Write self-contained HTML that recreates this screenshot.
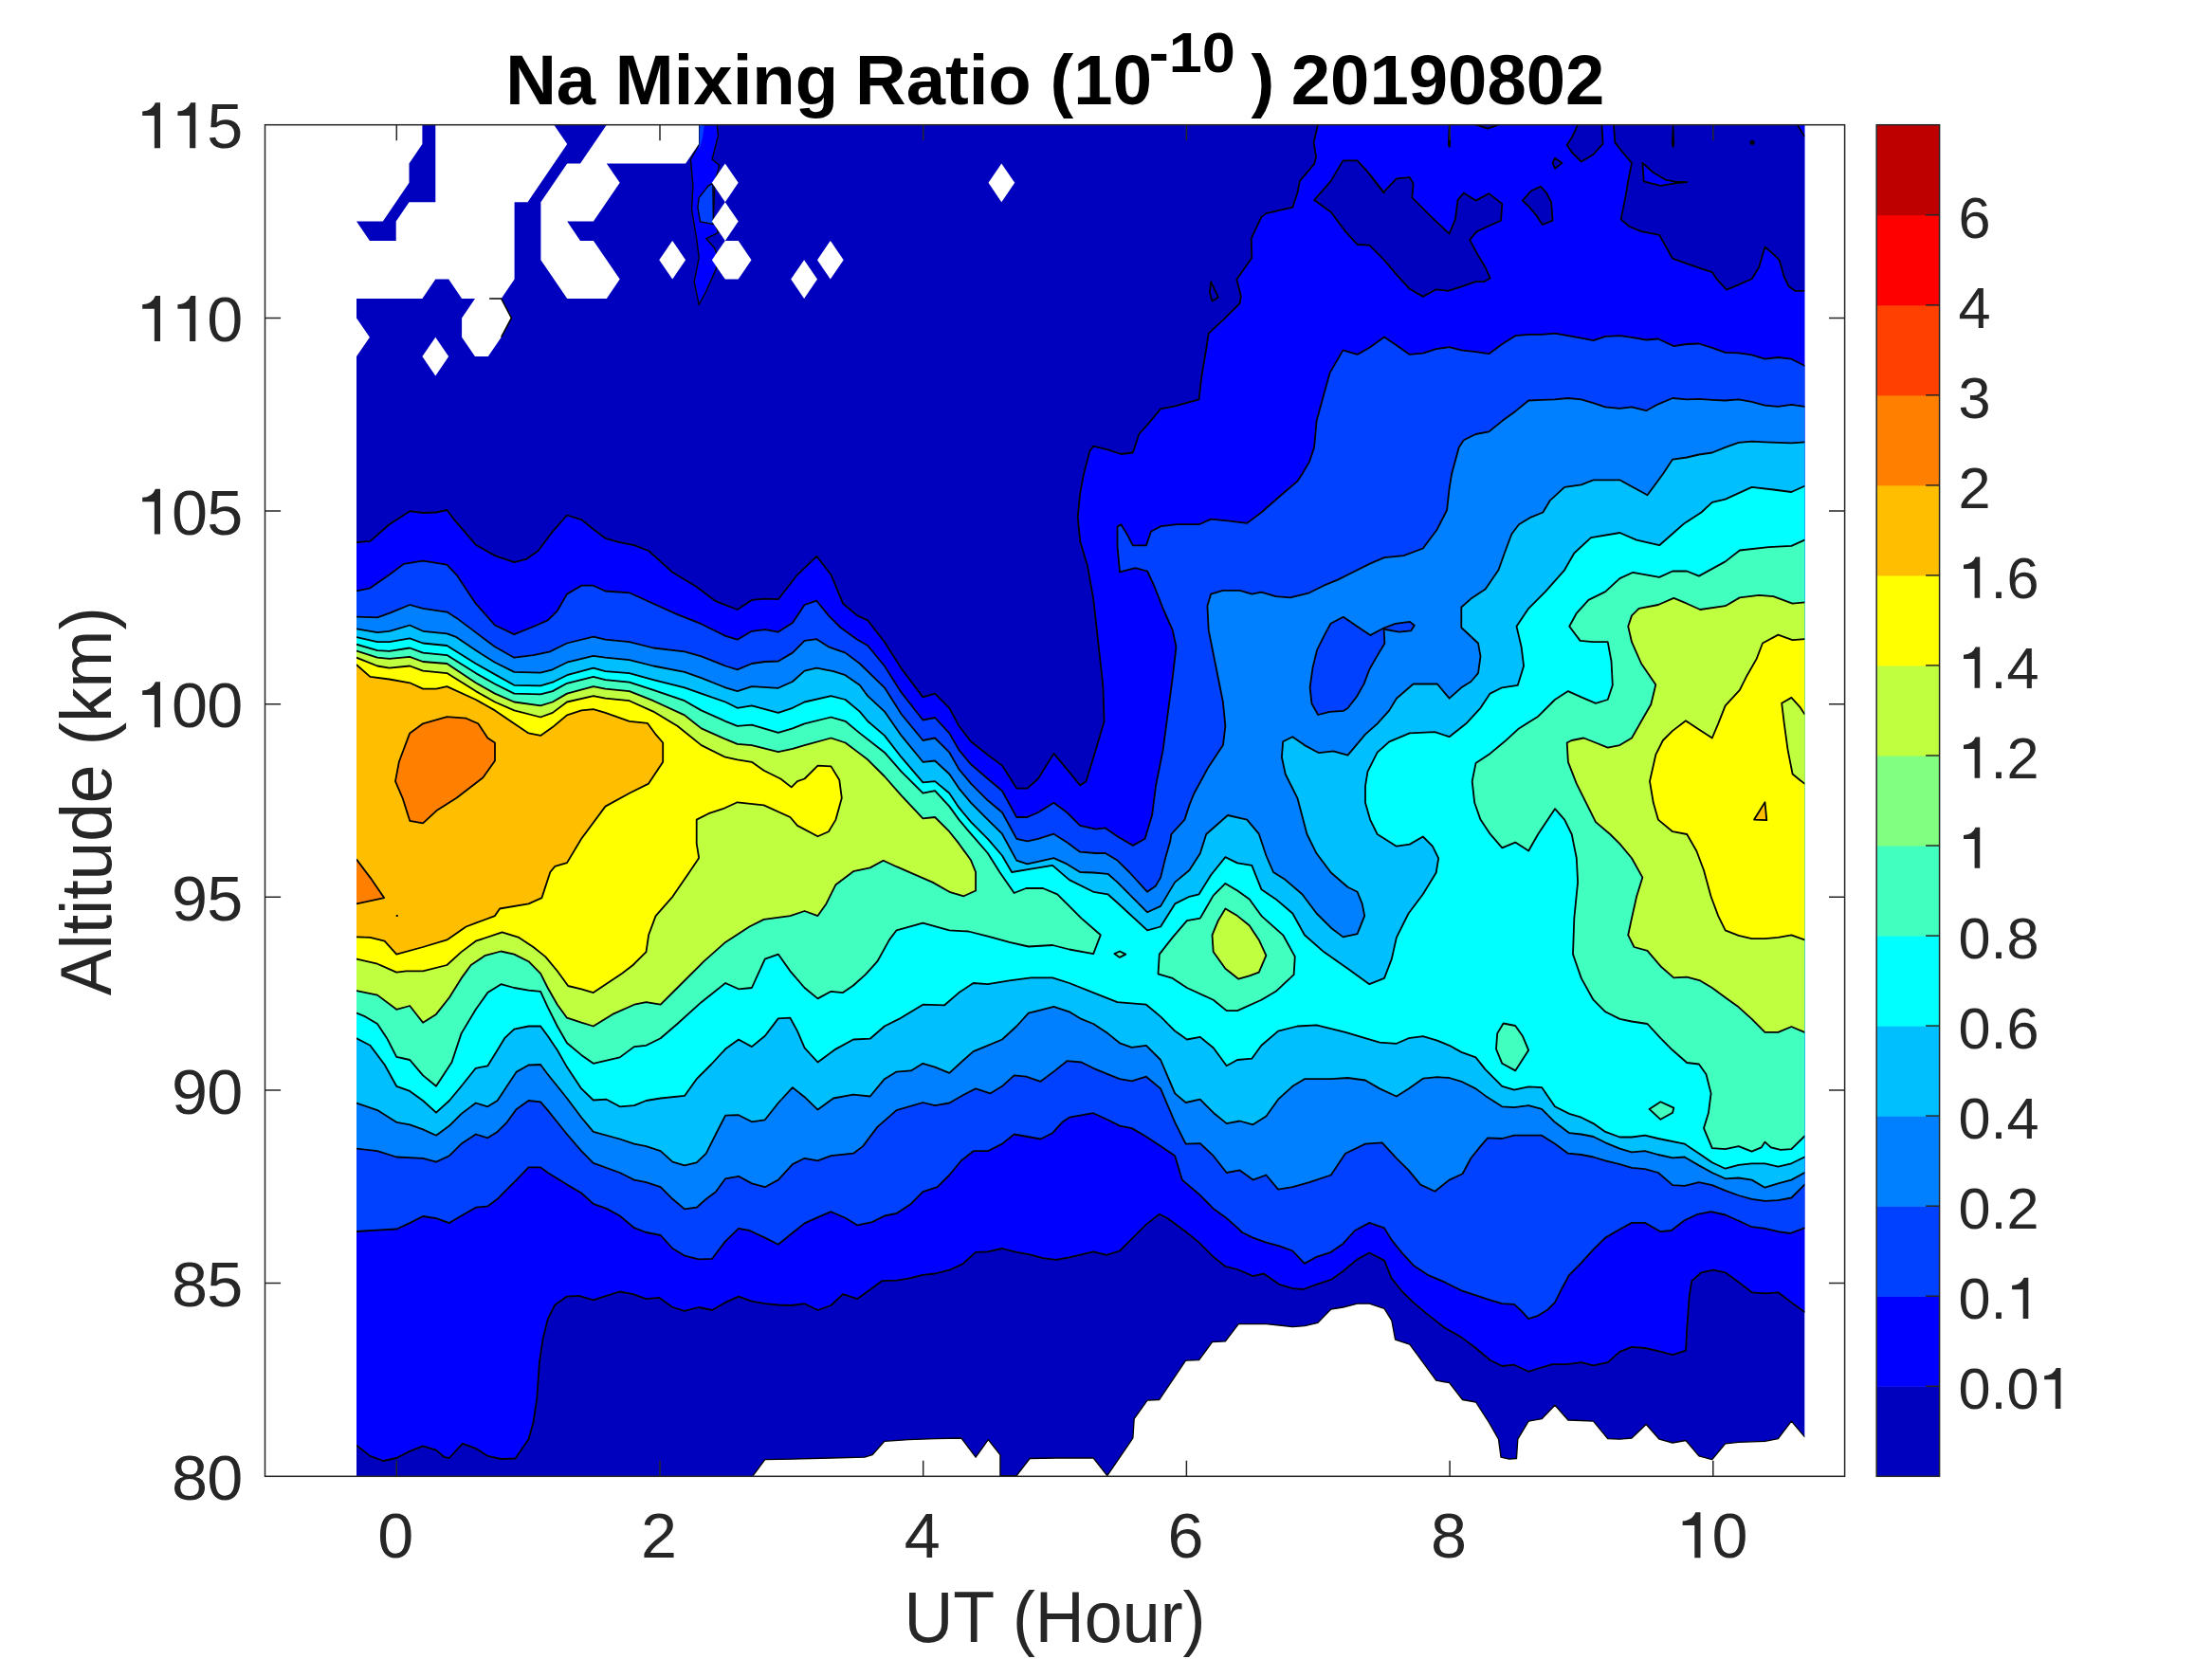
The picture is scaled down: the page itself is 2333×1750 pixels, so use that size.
<!DOCTYPE html>
<html><head><meta charset="utf-8"><title>Na Mixing Ratio</title>
<style>html,body{margin:0;padding:0;background:#fff}svg{display:block}</style></head>
<body><svg width="2333" height="1750" viewBox="0 0 2333 1750">
<rect width="2333" height="1750" fill="#fff"/>
<defs><clipPath id="dc"><rect x="376.0" y="131.7" width="1527.3" height="1425.6"/></clipPath></defs>
<g clip-path="url(#dc)">
<rect x="371.0" y="126.69999999999999" width="1537.3" height="1435.6" fill="#0000bf"/>
<polygon points="370.0,572.2 376.0,572.2 390.4,570.9 410.6,553.2 432.2,539.2 446.1,541.0 460.0,540.5 471.4,538.0 479.0,548.1 501.8,574.7 522.0,586.1 542.3,593.2 554.9,589.9 567.6,581.0 582.8,560.8 598.0,543.5 613.2,548.1 625.8,558.2 638.5,567.8 653.7,572.2 668.9,575.2 684.1,581.0 709.4,603.8 734.7,619.0 754.9,634.2 777.7,643.0 792.9,632.9 806.8,631.6 820.8,632.2 841.0,606.3 861.3,586.8 876.5,606.3 889.1,636.7 904.3,649.4 915.2,654.4 932.9,677.2 950.6,705.1 973.4,735.4 986.1,731.6 1001.3,746.8 1011.4,765.8 1024.1,782.3 1041.8,796.2 1057.0,807.6 1072.2,831.6 1083.5,831.6 1094.9,821.5 1111.4,794.9 1125.3,811.4 1139.2,828.4 1145.6,824.1 1155.7,791.1 1164.6,760.8 1163.3,722.8 1158.2,677.2 1153.2,631.6 1146.8,596.2 1139.2,570.9 1136.7,545.6 1139.2,520.3 1143.0,500.0 1149.4,475.7 1153.2,470.6 1168.4,474.4 1182.3,479.0 1194.9,477.5 1201.3,458.0 1211.4,446.6 1224.1,431.4 1239.2,428.4 1264.6,421.3 1267.1,398.5 1272.2,368.1 1274.7,351.6 1289.9,337.7 1307.6,320.0 1308.9,312.4 1304.3,294.7 1320.3,271.9 1319.7,251.6 1330.4,228.9 1335.4,225.1 1363.3,218.7 1368.4,203.5 1370.9,190.9 1386.1,173.2 1388.1,165.6 1385.6,150.4 1389.9,131.7 1389.9,125.7 1909.3,125.7 1909.3,1384.1 1903.3,1384.1 1889.4,1373.9 1875.4,1363.3 1861.5,1364.3 1847.6,1363.3 1833.7,1352.4 1819.7,1342.3 1807.1,1339.7 1794.4,1342.3 1784.3,1351.1 1781.8,1366.3 1779.2,1401.8 1778.0,1424.6 1764.1,1429.1 1748.9,1425.1 1734.9,1422.0 1721.0,1420.8 1708.4,1425.8 1695.7,1437.2 1680.5,1440.3 1667.8,1437.2 1652.7,1439.2 1637.5,1439.2 1622.3,1443.5 1612.2,1446.8 1597.0,1439.7 1584.3,1441.0 1571.6,1434.7 1556.5,1422.0 1541.3,1410.6 1523.5,1400.5 1505.8,1386.6 1490.6,1373.9 1478.0,1361.3 1467.8,1348.6 1460.0,1329.6 1444.3,1321.5 1431.6,1328.4 1416.5,1341.0 1403.8,1349.9 1388.6,1354.9 1374.7,1360.0 1363.3,1359.2 1349.4,1354.9 1332.9,1343.5 1321.5,1346.1 1305.1,1339.0 1292.4,1335.9 1279.7,1325.8 1264.6,1310.6 1250.6,1299.2 1231.6,1285.3 1222.8,1280.8 1208.9,1291.6 1194.9,1305.6 1181.0,1319.5 1167.1,1323.8 1153.2,1320.3 1140.5,1323.3 1127.8,1326.3 1113.9,1328.9 1100.0,1327.1 1086.1,1323.3 1072.2,1320.8 1057.0,1317.0 1041.8,1320.3 1029.1,1320.8 1015.2,1333.4 1001.3,1339.7 986.1,1343.5 973.4,1344.8 958.2,1348.6 945.6,1350.6 930.4,1351.1 920.0,1358.7 904.3,1370.1 889.1,1365.1 876.5,1377.0 862.5,1382.0 848.6,1375.2 834.7,1377.0 820.8,1376.5 806.8,1375.2 792.9,1372.7 779.0,1367.6 765.1,1373.9 751.1,1382.0 737.2,1379.0 722.0,1382.8 709.4,1379.0 695.4,1368.9 681.5,1370.1 667.6,1365.1 653.7,1362.5 639.7,1366.8 625.8,1371.4 610.6,1366.8 598.0,1367.6 585.3,1376.5 577.7,1391.6 572.7,1411.9 568.9,1437.2 566.3,1475.2 562.5,1500.5 557.5,1518.2 543.5,1538.5 528.4,1539.0 514.4,1535.9 501.8,1527.8 487.8,1522.8 473.9,1538.0 468.9,1537.2 460.0,1529.6 446.1,1525.3 432.2,1530.9 418.2,1538.0 404.3,1541.0 390.4,1535.9 376.0,1524.6 370.0,1524.6" fill="#0000ff"/>
<polygon points="1460.0,203.5 1444.3,183.3 1431.6,169.4 1416.5,169.4 1403.8,190.9 1386.1,211.1 1403.8,223.8 1419.0,244.1 1431.6,258.0 1444.3,258.7 1460.0,274.4 1472.9,289.6 1486.8,304.8 1500.8,312.9 1514.7,305.3 1527.3,306.8 1541.3,302.3 1556.5,297.2 1565.3,297.2 1571.6,293.4 1566.6,282.0 1559.0,269.4 1550.1,252.9 1557.7,244.1 1571.6,237.7 1583.0,232.7 1584.3,214.9 1570.4,204.1 1556.5,211.6 1543.8,203.5 1537.5,211.1 1534.9,231.4 1528.6,246.6 1508.4,227.6 1489.4,208.6 1490.6,193.4 1486.8,187.1 1472.9,188.4 1459.0,203.0 1440.0,178.2" fill="#0000bf"/>
<polygon points="1605.8,211.6 1614.7,201.5 1624.8,196.7 1631.1,203.5 1636.2,213.7 1637.5,232.7 1626.8,237.0 1619.7,226.3 1612.2,217.5" fill="#0000bf"/>
<polygon points="1637.5,171.9 1640.0,166.8 1647.6,171.9 1640.0,177.7" fill="#0000bf"/>
<polygon points="1664.1,125.7 1664.1,131.7 1657.7,145.3 1652.7,152.9 1657.7,160.5 1667.8,170.6 1680.5,163.0 1690.6,151.6 1689.4,131.7 1689.4,125.7" fill="#0000bf"/>
<polygon points="1702.0,125.7 1702.0,131.7 1703.3,150.4 1713.4,163.0 1721.0,171.9 1717.2,190.9 1714.7,206.1 1709.6,231.4 1718.5,239.0 1731.1,244.1 1743.8,246.6 1750.1,247.8 1756.5,259.2 1764.1,272.7 1779.2,278.2 1794.4,283.3 1805.8,287.1 1810.9,294.7 1821.0,305.6 1833.7,300.3 1847.6,294.2 1855.2,282.0 1861.5,260.5 1870.4,268.1 1876.7,274.4 1881.8,292.2 1886.8,302.3 1893.2,306.8 1903.3,306.8 1903.3,144.1 1895.7,131.7 1895.7,125.7" fill="#0000bf"/>
<polygon points="1732.4,171.9 1743.8,182.0 1756.5,189.6 1766.6,191.6 1779.2,192.2 1766.6,193.4 1751.4,195.9 1733.7,191.4" fill="#0000ff"/>
<polygon points="1277.2,297.2 1284.8,313.7 1278.5,317.5 1275.9,308.6" fill="#0000bf"/>
<polygon points="1556.5,125.7 1556.5,131.7 1569.1,135.7 1580.5,131.7 1580.5,125.7" fill="#0000bf"/>
<polygon points="370.0,623.3 376.0,623.3 390.4,620.3 410.6,606.3 425.8,594.9 446.1,591.6 471.4,595.7 481.5,606.3 501.8,636.7 522.0,659.5 542.3,669.1 560.0,662.0 577.7,654.4 587.8,644.3 598.0,626.6 613.2,617.7 625.8,617.7 638.5,623.5 663.8,625.3 689.1,636.7 714.4,648.1 739.7,658.2 765.1,670.9 777.7,674.7 792.9,665.8 806.8,664.1 820.8,666.6 835.9,657.0 848.6,638.0 861.3,633.7 873.9,649.4 886.6,662.0 904.3,674.7 915.2,681.0 932.9,702.5 950.6,730.4 973.4,759.5 986.1,757.0 1001.3,773.4 1011.4,791.1 1024.1,806.3 1041.8,821.5 1057.0,834.2 1072.2,862.0 1083.5,862.0 1094.9,857.0 1111.4,846.8 1125.3,857.0 1139.2,870.9 1155.7,874.7 1165.8,873.4 1178.5,882.3 1194.9,891.9 1207.6,884.8 1215.2,859.5 1219.0,829.1 1226.6,791.1 1231.6,753.2 1236.7,715.2 1240.5,682.3 1236.7,664.6 1226.6,641.8 1217.7,619.0 1210.1,602.5 1197.5,599.2 1181.0,603.3 1178.5,575.9 1178.5,555.7 1182.3,553.2 1188.6,563.3 1194.9,575.4 1208.9,575.4 1213.9,560.8 1224.1,555.2 1241.8,553.2 1264.6,553.2 1277.2,547.6 1294.9,549.4 1315.2,551.9 1330.4,540.5 1350.6,522.8 1368.4,507.6 1373.4,500.0 1381.0,487.1 1386.1,471.9 1388.6,444.1 1396.2,416.2 1402.5,393.4 1416.5,369.4 1431.6,373.9 1444.3,366.8 1460.0,355.4 1472.9,364.3 1486.8,373.9 1500.8,372.7 1514.7,368.1 1528.6,366.1 1541.3,369.4 1556.5,371.1 1570.4,373.2 1584.3,363.0 1598.2,354.2 1612.2,352.9 1626.1,352.9 1640.0,351.6 1653.9,354.2 1667.8,356.7 1680.5,359.2 1693.2,354.9 1708.4,354.2 1721.0,355.9 1736.2,358.5 1748.9,357.5 1765.3,365.1 1779.2,363.0 1791.9,362.5 1805.8,366.8 1819.7,371.9 1833.7,372.4 1847.6,374.4 1861.5,378.7 1875.4,377.0 1889.4,378.7 1903.3,385.8 1909.3,385.8 1909.3,1295.4 1903.3,1295.4 1888.1,1301.0 1875.4,1299.2 1861.5,1295.9 1847.6,1294.2 1833.7,1287.8 1819.7,1281.5 1804.6,1278.2 1790.6,1280.8 1776.7,1287.3 1762.8,1298.0 1751.4,1299.2 1734.9,1289.9 1721.0,1289.9 1707.1,1297.5 1693.2,1305.6 1680.5,1318.2 1667.8,1332.2 1655.2,1344.8 1647.6,1358.7 1640.0,1373.9 1632.4,1381.5 1622.3,1387.8 1612.2,1391.1 1604.6,1382.8 1597.0,1375.9 1584.3,1375.2 1571.6,1371.4 1556.5,1366.3 1541.3,1361.3 1523.5,1352.4 1505.8,1344.8 1490.6,1334.7 1478.0,1320.8 1467.8,1308.1 1460.0,1295.4 1444.3,1289.9 1429.1,1298.0 1416.5,1311.9 1403.8,1320.8 1388.6,1325.8 1375.9,1332.9 1363.3,1319.5 1349.4,1314.4 1335.4,1310.6 1321.5,1305.6 1310.1,1300.0 1305.1,1295.2 1293.7,1285.1 1279.7,1274.9 1264.6,1259.7 1246.8,1244.6 1239.2,1219.2 1224.1,1209.1 1208.9,1199.0 1193.7,1190.1 1181.0,1187.6 1168.4,1181.3 1153.2,1174.2 1127.8,1178.7 1120.3,1183.8 1110.1,1195.2 1097.5,1201.5 1069.6,1196.5 1057.0,1206.6 1041.8,1214.2 1026.6,1214.2 1013.9,1224.3 1001.3,1239.5 988.6,1252.2 973.4,1257.2 960.8,1269.9 945.6,1280.0 932.9,1282.5 920.0,1289.1 904.3,1292.4 891.6,1284.8 876.5,1278.2 862.5,1284.1 848.6,1290.4 835.9,1300.5 820.8,1312.7 806.8,1305.6 790.4,1298.0 779.0,1295.9 765.1,1309.4 751.1,1327.8 737.2,1328.4 722.0,1324.6 709.4,1317.0 696.7,1303.0 681.5,1300.0 668.9,1295.2 653.7,1282.5 639.7,1274.9 625.8,1269.9 613.2,1258.5 598.0,1249.6 577.7,1237.0 570.1,1231.4 557.5,1231.4 544.8,1244.6 534.7,1254.7 524.6,1264.8 514.4,1272.4 501.8,1273.7 486.6,1282.5 473.9,1290.1 460.0,1285.1 446.1,1283.0 432.2,1290.1 418.2,1296.5 398.0,1297.7 376.0,1299.0 370.0,1299.0" fill="#0040ff"/>
<polygon points="370.0,650.6 376.0,650.6 398.0,651.4 410.6,646.8 432.2,638.0 446.1,641.8 471.4,645.6 481.5,651.9 501.8,667.1 522.0,682.3 542.3,693.7 562.5,691.1 580.3,687.3 598.0,678.5 625.8,671.6 638.5,674.7 663.8,677.2 689.1,683.5 722.0,687.3 739.7,692.4 765.1,702.5 777.7,706.3 792.9,700.0 806.8,698.0 820.8,697.5 835.9,688.6 848.6,675.9 861.3,674.2 873.9,682.3 891.6,688.6 906.8,700.0 932.9,725.3 950.6,753.2 973.4,781.0 986.1,778.5 1001.3,793.7 1011.4,811.4 1024.1,826.6 1041.8,844.3 1057.0,857.0 1072.2,884.8 1083.5,887.3 1094.9,884.8 1111.4,879.7 1125.3,888.6 1139.2,898.7 1155.7,900.0 1165.8,900.0 1178.5,907.6 1191.1,920.0 1210.1,940.8 1219.0,934.4 1224.1,925.6 1229.1,905.3 1234.2,887.6 1235.4,880.0 1249.4,864.6 1254.4,849.4 1259.5,836.7 1274.7,808.9 1289.9,786.1 1292.4,765.8 1289.9,740.5 1282.3,702.5 1274.7,664.6 1273.4,639.2 1277.2,626.6 1289.9,622.8 1307.6,622.8 1320.3,626.6 1330.4,624.6 1345.6,629.1 1360.8,630.4 1381.0,625.3 1396.2,617.7 1411.4,611.4 1426.6,603.8 1444.3,594.9 1460.0,588.1 1480.5,586.1 1500.8,578.5 1515.9,558.2 1526.1,538.0 1528.6,515.2 1531.1,500.0 1538.7,471.9 1543.8,464.3 1556.5,458.0 1570.4,455.4 1584.3,444.1 1598.2,433.9 1612.2,422.5 1626.1,421.8 1640.0,421.3 1653.9,420.0 1667.8,421.3 1680.5,425.1 1693.2,429.4 1708.4,430.9 1721.0,429.4 1736.2,433.2 1748.9,426.3 1764.1,420.0 1779.2,421.3 1791.9,420.8 1805.8,421.8 1819.7,422.5 1833.7,421.3 1847.6,423.8 1861.5,427.6 1875.4,428.9 1889.4,426.8 1903.3,428.9 1909.3,428.9 1909.3,1249.6 1903.3,1249.6 1889.4,1263.5 1875.4,1266.1 1861.5,1266.8 1847.6,1264.8 1833.7,1261.0 1819.7,1255.9 1805.8,1250.1 1791.9,1247.1 1776.7,1250.9 1764.1,1250.1 1748.9,1237.0 1734.9,1233.2 1721.0,1231.9 1708.4,1228.1 1693.2,1224.3 1680.5,1220.5 1667.8,1218.0 1653.9,1216.7 1640.0,1206.6 1626.1,1197.7 1597.0,1197.7 1584.3,1201.0 1569.1,1200.3 1561.5,1209.1 1551.4,1221.8 1542.5,1238.2 1528.6,1244.6 1513.4,1256.7 1498.2,1249.6 1485.6,1234.4 1472.9,1221.8 1457.7,1205.3 1440.0,1206.6 1419.0,1216.7 1403.8,1239.5 1381.0,1247.1 1363.3,1252.2 1348.1,1254.7 1335.4,1239.5 1321.5,1244.6 1307.6,1234.4 1293.7,1237.0 1279.7,1219.2 1265.8,1206.1 1250.6,1206.6 1239.2,1183.8 1231.6,1166.1 1224.1,1148.4 1208.9,1135.7 1193.7,1140.3 1181.0,1138.2 1168.4,1133.2 1153.2,1126.8 1140.5,1120.5 1125.3,1119.2 1112.7,1129.4 1097.5,1140.8 1082.3,1135.7 1069.6,1134.4 1057.0,1145.8 1044.3,1153.4 1029.1,1148.4 1016.5,1154.7 1001.3,1163.5 986.1,1166.1 973.4,1163.0 945.6,1171.1 925.3,1188.9 910.1,1209.1 900.0,1216.7 876.5,1219.2 862.5,1224.3 848.6,1221.8 835.9,1228.1 820.8,1244.6 806.8,1252.2 792.9,1248.4 779.0,1240.8 765.1,1243.3 754.9,1257.2 744.8,1264.8 734.7,1273.7 722.0,1275.4 709.4,1264.8 696.7,1252.2 681.5,1247.1 668.9,1244.6 653.7,1237.0 625.8,1226.8 613.2,1214.2 598.0,1196.5 587.8,1183.8 577.7,1171.1 570.1,1162.3 557.5,1161.0 544.8,1169.9 534.7,1183.8 524.6,1193.9 514.4,1200.3 501.8,1196.5 486.6,1206.6 473.9,1219.2 460.0,1225.6 446.1,1221.8 418.2,1220.5 398.0,1214.2 376.0,1211.6 370.0,1211.6" fill="#0080ff"/>
<polygon points="1403.5,657.8 1416.8,650.8 1431.0,660.6 1445.2,670.1 1459.5,662.5 1460.4,678.7 1451.9,692.9 1444.3,706.2 1438.6,721.4 1431.0,734.7 1421.5,747.0 1416.8,749.9 1402.5,750.8 1390.2,754.0 1383.5,742.3 1381.6,725.2 1384.5,704.3 1389.2,685.3 1396.8,670.1" fill="#0040ff"/>
<polygon points="1459.5,662.5 1471.8,657.8 1487.0,655.9 1491.8,659.7 1488.0,665.4 1475.6,666.7 1461.4,664.0" fill="#0040ff"/>
<polygon points="370.0,663.3 376.0,663.3 398.0,667.1 410.6,665.8 432.2,659.5 446.1,665.8 471.4,668.4 481.5,672.2 501.8,686.1 522.0,698.7 542.3,708.9 570.1,709.6 582.8,706.3 598.0,698.7 625.8,691.9 638.5,693.7 663.8,696.2 689.1,702.5 722.0,708.9 739.7,715.2 765.1,725.3 777.7,729.1 792.9,724.1 820.8,725.8 835.9,719.0 848.6,707.6 861.3,704.6 879.0,708.1 891.6,712.2 906.8,722.8 915.2,734.2 932.9,750.6 950.6,775.9 973.4,803.8 986.1,802.5 1001.3,816.5 1011.4,831.6 1024.1,846.8 1041.8,864.6 1057.0,879.7 1072.2,907.6 1083.5,911.4 1094.9,908.9 1111.4,905.1 1125.3,911.4 1139.2,920.0 1153.2,920.5 1168.4,921.8 1178.5,930.6 1210.1,962.3 1224.1,955.9 1239.2,930.6 1254.4,918.0 1265.8,900.3 1272.2,880.0 1294.9,860.0 1315.2,864.6 1327.8,879.7 1335.4,902.5 1343.0,920.0 1355.7,928.1 1373.4,943.3 1388.6,963.5 1403.8,978.7 1416.5,988.4 1431.6,985.1 1439.2,966.1 1436.7,953.4 1431.6,940.8 1421.5,935.7 1403.8,920.5 1388.6,900.3 1378.5,880.0 1368.4,841.8 1355.7,816.5 1351.9,798.7 1353.2,782.3 1363.3,777.2 1375.9,786.1 1391.1,794.2 1406.3,792.4 1421.5,796.7 1440.0,774.7 1452.7,763.3 1465.3,749.4 1472.9,736.7 1490.6,721.5 1515.9,721.5 1528.6,736.7 1541.3,725.3 1551.4,719.0 1559.0,710.1 1561.5,692.4 1559.0,678.5 1541.3,662.0 1541.3,640.5 1551.4,631.6 1566.6,621.5 1580.5,601.3 1586.8,583.5 1594.4,563.3 1602.0,553.2 1614.7,545.6 1627.3,540.5 1634.9,527.8 1650.1,513.9 1667.8,511.4 1680.5,506.3 1708.4,506.3 1737.5,522.3 1753.9,500.0 1764.1,484.6 1779.2,482.5 1791.9,479.5 1805.8,477.5 1819.7,471.9 1833.7,466.8 1847.6,465.6 1861.5,466.3 1875.4,466.8 1889.4,467.3 1903.3,466.3 1909.3,466.3 1909.3,1237.0 1903.3,1237.0 1889.4,1244.6 1875.4,1248.4 1861.5,1252.7 1847.6,1244.6 1833.7,1242.5 1819.7,1243.3 1805.8,1237.0 1791.9,1229.4 1776.7,1220.5 1764.1,1221.3 1748.9,1218.0 1734.9,1214.2 1721.0,1215.4 1708.4,1211.6 1693.2,1205.3 1680.5,1199.0 1667.8,1196.5 1655.2,1195.2 1640.0,1183.8 1626.1,1169.9 1612.2,1166.1 1597.0,1168.1 1584.3,1167.3 1566.6,1155.9 1556.5,1148.4 1541.3,1140.8 1528.6,1137.0 1515.9,1136.2 1500.8,1137.7 1485.6,1148.4 1472.9,1156.5 1455.2,1148.4 1440.0,1139.5 1421.5,1137.0 1403.8,1138.2 1375.9,1138.2 1363.3,1145.8 1348.1,1159.7 1335.4,1177.5 1321.5,1186.3 1307.6,1182.5 1293.7,1185.1 1279.7,1173.7 1265.8,1159.7 1250.6,1163.0 1239.2,1153.4 1231.6,1135.7 1224.1,1118.0 1208.9,1102.8 1193.7,1104.8 1181.0,1100.3 1168.4,1090.1 1153.2,1080.0 1140.5,1074.9 1127.8,1067.3 1111.4,1061.8 1100.0,1064.8 1084.8,1068.6 1072.2,1082.5 1057.0,1096.5 1041.8,1102.8 1026.6,1109.1 1016.5,1118.0 1001.3,1131.9 986.1,1125.6 973.4,1121.8 960.8,1129.4 945.6,1130.6 932.9,1138.2 917.7,1156.5 900.0,1154.7 879.0,1158.5 862.5,1170.6 848.6,1157.2 835.9,1147.1 820.8,1163.5 806.8,1181.3 792.9,1183.3 779.0,1176.2 765.1,1176.7 754.9,1196.5 744.8,1216.7 734.7,1226.3 722.0,1229.4 709.4,1225.6 696.7,1214.2 681.5,1209.1 668.9,1206.6 653.7,1201.5 625.8,1193.9 613.2,1178.7 598.0,1158.5 587.8,1145.8 577.7,1133.2 570.1,1123.0 557.5,1123.5 544.8,1130.6 534.7,1145.8 524.6,1161.0 514.4,1167.3 501.8,1163.5 486.6,1174.9 473.9,1187.6 460.0,1197.7 446.1,1191.4 432.2,1186.3 418.2,1183.8 398.0,1171.1 376.0,1163.5 370.0,1163.5" fill="#00bfff"/>
<polygon points="370.0,672.2 376.0,672.2 398.0,677.2 410.6,677.2 432.2,673.4 446.1,678.5 471.4,681.0 501.8,700.0 522.0,711.4 542.3,722.8 570.1,723.3 582.8,719.7 598.0,712.2 625.8,704.6 638.5,708.1 663.8,710.1 689.1,717.2 722.0,725.3 739.7,731.6 765.1,740.5 777.7,746.8 792.9,744.3 820.8,751.9 835.9,746.8 848.6,740.5 876.5,734.2 891.6,738.0 906.8,750.6 915.2,760.8 932.9,775.9 950.6,798.7 973.4,825.3 986.1,824.1 1001.3,836.7 1011.4,851.9 1024.1,867.1 1041.8,884.8 1057.0,902.5 1067.1,920.0 1087.3,916.7 1110.1,912.9 1127.8,928.1 1153.2,940.8 1168.4,943.3 1178.5,952.2 1210.1,981.3 1224.1,977.5 1239.2,953.4 1254.4,945.8 1264.6,943.3 1277.2,923.0 1292.4,904.1 1305.1,910.4 1320.3,912.9 1330.4,938.2 1345.6,948.4 1363.3,963.5 1375.9,986.3 1396.2,1004.1 1421.5,1021.8 1444.3,1038.2 1460.0,1031.9 1467.8,1011.6 1472.9,988.9 1485.6,963.5 1500.8,943.3 1514.7,920.5 1517.2,905.3 1510.9,892.7 1500.8,882.5 1486.8,890.6 1472.9,892.7 1452.7,880.0 1445.1,864.6 1440.0,846.8 1440.0,829.1 1442.5,813.9 1452.7,793.7 1465.3,782.3 1486.8,773.4 1513.4,772.2 1528.6,777.2 1546.3,763.3 1561.5,746.8 1571.6,731.6 1584.3,725.3 1600.8,722.8 1607.1,702.5 1604.6,682.3 1599.5,660.8 1612.2,641.8 1629.9,624.1 1650.1,601.3 1660.3,583.5 1678.0,567.1 1708.4,562.0 1726.1,569.6 1750.1,575.2 1766.6,560.8 1776.7,551.9 1794.4,540.5 1805.8,529.9 1819.7,526.6 1847.6,513.9 1870.4,516.5 1889.4,519.0 1903.3,512.7 1909.3,512.7 1909.3,1220.5 1903.3,1220.5 1889.4,1227.3 1875.4,1230.6 1861.5,1227.3 1847.6,1227.3 1833.7,1228.9 1819.7,1232.7 1805.8,1226.3 1791.9,1216.7 1776.7,1206.6 1748.9,1201.0 1734.9,1197.7 1721.0,1199.5 1708.4,1199.5 1693.2,1193.9 1680.5,1185.1 1667.8,1178.7 1655.2,1174.9 1640.0,1167.3 1626.1,1147.1 1612.2,1146.3 1597.0,1149.6 1584.3,1145.8 1566.6,1128.1 1556.5,1115.4 1541.3,1109.9 1528.6,1102.8 1515.9,1097.7 1500.8,1093.2 1485.6,1095.2 1472.9,1100.8 1455.2,1099.7 1440.0,1095.2 1419.0,1088.9 1388.6,1081.3 1368.4,1082.5 1348.1,1087.6 1330.4,1102.8 1320.3,1116.7 1305.1,1118.0 1293.7,1124.3 1279.7,1105.3 1265.8,1093.9 1251.9,1096.5 1239.2,1087.6 1224.1,1072.4 1208.9,1059.7 1178.5,1057.2 1153.2,1047.1 1127.8,1037.0 1110.1,1031.4 1087.3,1031.4 1064.6,1034.4 1041.8,1038.2 1026.6,1037.0 1011.4,1047.1 996.2,1060.3 973.4,1059.7 948.1,1074.9 932.9,1082.5 917.7,1095.7 900.0,1096.5 881.5,1106.6 862.5,1120.5 848.6,1105.3 841.0,1087.6 833.4,1073.7 820.8,1074.4 806.8,1092.7 792.9,1104.1 779.0,1096.5 765.1,1106.6 749.9,1123.0 734.7,1138.2 722.0,1155.9 696.7,1158.5 681.5,1161.0 668.9,1166.1 653.7,1167.3 639.7,1159.7 625.8,1160.5 613.2,1148.4 598.0,1125.6 587.8,1107.8 577.7,1092.7 570.1,1082.5 557.5,1082.5 542.3,1085.6 532.2,1095.2 524.6,1107.8 514.4,1124.3 501.8,1126.8 486.6,1145.8 473.9,1161.0 460.0,1173.7 446.1,1161.0 432.2,1150.9 418.2,1145.8 405.6,1123.0 390.4,1102.8 376.0,1095.2 370.0,1095.2" fill="#00ffff"/>
<polygon points="370.0,679.7 376.0,679.7 398.0,686.1 410.6,686.8 432.2,683.5 446.1,688.6 471.4,691.1 501.8,710.1 522.0,721.5 542.3,731.6 570.1,732.4 582.8,729.1 598.0,720.8 625.8,713.9 638.5,717.2 663.8,719.7 689.1,727.8 722.0,739.2 739.7,749.4 765.1,760.8 777.7,765.8 792.9,764.6 820.8,772.9 835.9,768.4 848.6,763.3 876.5,756.5 891.6,760.8 906.8,773.4 932.9,793.7 950.6,813.9 973.4,836.7 986.1,834.2 1001.3,850.6 1011.4,864.6 1024.1,879.7 1041.8,900.0 1054.4,920.0 1069.6,942.0 1082.3,937.0 1100.0,937.0 1115.2,943.3 1127.8,955.9 1140.5,968.6 1160.8,986.3 1153.2,1006.1 1127.8,1001.5 1110.1,997.0 1084.8,998.5 1064.6,993.9 1041.8,987.6 1021.5,982.5 1001.3,981.3 973.4,973.7 945.6,981.3 938.0,991.4 925.3,1014.2 912.7,1028.1 900.0,1039.5 889.1,1047.1 876.5,1045.8 862.5,1053.4 848.6,1042.0 833.4,1024.3 820.8,1006.6 806.8,1011.6 792.9,1042.0 779.0,1043.3 765.1,1037.0 739.7,1057.2 714.4,1080.0 696.7,1095.2 681.5,1102.8 668.9,1104.1 653.7,1115.4 625.8,1121.8 613.2,1112.9 598.0,1100.3 587.8,1082.5 577.7,1062.3 570.1,1045.8 557.5,1044.6 542.3,1042.0 528.4,1038.2 514.4,1047.1 501.8,1064.8 486.6,1090.1 476.5,1120.5 460.0,1145.8 446.1,1134.4 432.2,1118.0 418.2,1114.9 408.1,1095.2 398.0,1080.0 385.3,1072.4 376.0,1068.6 370.0,1068.6" fill="#40ffbf"/>
<polygon points="1909.3,1198.5 1903.3,1198.5 1889.4,1212.2 1878.0,1212.9 1867.8,1210.4 1861.5,1204.6 1857.7,1210.4 1847.6,1214.7 1833.7,1209.1 1819.7,1212.2 1805.8,1211.1 1797.0,1190.1 1802.0,1173.7 1804.6,1153.4 1799.5,1133.2 1791.9,1122.5 1779.2,1121.0 1764.1,1107.8 1751.4,1095.2 1737.5,1080.0 1721.0,1077.5 1708.4,1074.9 1693.2,1067.3 1680.5,1054.7 1667.8,1031.9 1659.0,1006.6 1660.3,968.6 1664.1,930.6 1662.8,905.3 1657.7,880.0 1650.1,864.6 1640.0,853.2 1622.3,879.7 1612.2,897.5 1598.2,888.6 1584.3,894.4 1571.6,879.7 1561.5,864.6 1555.2,846.8 1552.7,824.1 1556.5,805.1 1571.6,794.9 1586.8,782.3 1602.0,768.4 1622.3,755.7 1640.0,738.0 1653.9,729.1 1667.8,735.4 1683.0,741.8 1695.7,738.0 1700.8,722.8 1699.5,697.5 1695.7,677.2 1680.5,677.2 1666.6,675.9 1655.2,660.8 1662.8,646.8 1675.4,632.9 1693.2,624.1 1708.4,610.1 1722.3,603.8 1750.1,608.9 1764.1,602.5 1779.2,602.5 1791.9,607.6 1819.7,592.4 1834.9,580.5 1865.3,577.2 1889.4,575.9 1903.3,569.6 1909.3,569.6" fill="#40ffbf"/>
<polygon points="1292.4,931.9 1305.1,939.5 1317.7,948.4 1330.4,966.1 1353.2,986.3 1365.8,1009.1 1364.6,1028.1 1345.6,1045.8 1330.4,1054.7 1305.1,1066.1 1293.7,1066.1 1279.7,1054.7 1251.9,1042.0 1236.7,1031.9 1221.5,1027.3 1222.8,1006.6 1236.7,988.9 1251.9,971.1 1265.8,968.6 1279.7,944.6" fill="#40ffbf"/>
<polygon points="1175.4,1006.1 1181.0,1003.5 1187.3,1006.6 1181.0,1009.9" fill="#40ffbf"/>
<polygon points="1585.6,1079.5 1598.2,1082.0 1605.8,1092.7 1612.2,1107.8 1598.2,1129.4 1584.3,1121.8 1578.0,1106.6 1579.2,1090.1" fill="#40ffbf"/>
<polygon points="1739.5,1169.9 1751.4,1162.3 1765.3,1168.6 1764.1,1173.7 1751.4,1180.8" fill="#40ffbf"/>
<polygon points="370.0,686.6 376.0,686.6 398.0,693.7 410.6,694.9 432.2,692.9 446.1,698.0 471.4,700.0 501.8,720.3 522.0,731.6 542.3,740.5 570.1,744.3 582.8,740.5 598.0,731.6 625.8,724.1 638.5,726.6 663.8,729.1 689.1,739.2 722.0,754.4 739.7,768.4 765.1,779.7 777.7,784.8 792.9,786.1 820.8,793.2 835.9,789.9 848.6,786.1 876.5,778.5 891.6,783.5 906.8,794.9 915.2,801.3 932.9,819.0 950.6,839.2 973.4,863.3 986.1,862.0 1001.3,877.2 1011.4,889.9 1024.1,907.6 1029.1,920.0 1029.1,939.5 1016.5,945.3 1001.3,940.8 983.5,930.6 963.3,921.8 945.6,914.2 931.6,907.8 917.7,915.4 900.0,919.2 881.5,933.2 871.4,953.4 862.5,966.1 848.6,961.0 833.4,966.1 805.6,969.9 790.4,977.5 765.1,993.9 742.3,1014.2 714.4,1042.0 696.7,1059.7 681.5,1057.2 668.9,1059.7 646.1,1069.9 625.8,1082.5 613.2,1078.7 598.0,1073.7 587.8,1059.7 577.7,1042.0 570.1,1026.8 557.5,1014.2 542.3,1006.6 528.4,1003.5 511.9,1007.8 496.7,1018.0 486.6,1031.9 473.9,1052.2 460.0,1069.9 446.1,1078.7 432.2,1061.0 418.2,1064.8 398.0,1049.6 376.0,1045.1 370.0,1045.1" fill="#bfff40"/>
<polygon points="1909.3,1088.9 1903.3,1088.9 1889.4,1083.0 1875.4,1088.9 1861.5,1088.9 1847.6,1074.9 1833.7,1062.3 1819.7,1052.2 1805.8,1042.0 1793.2,1034.4 1779.2,1030.6 1765.3,1031.4 1751.4,1019.2 1737.5,1002.8 1723.5,999.0 1717.2,986.3 1721.0,968.6 1726.1,945.8 1732.4,925.6 1721.0,905.3 1708.4,890.1 1698.2,880.0 1683.0,867.1 1672.9,846.8 1662.8,826.6 1653.9,803.8 1652.7,783.5 1657.7,781.0 1670.4,778.5 1683.0,783.5 1695.7,788.6 1708.4,786.1 1721.0,778.5 1731.1,760.8 1741.3,743.0 1746.3,722.3 1731.1,700.0 1721.0,677.2 1717.2,660.8 1721.0,649.4 1728.6,641.8 1748.9,638.0 1765.3,630.9 1779.2,636.7 1793.2,643.0 1819.7,639.2 1834.9,630.4 1855.2,627.8 1870.4,629.1 1890.6,636.7 1903.3,635.4 1909.3,635.4" fill="#bfff40"/>
<polygon points="1292.4,958.5 1305.1,966.1 1317.7,976.2 1327.8,991.4 1335.4,1007.8 1327.8,1025.6 1317.7,1029.4 1306.3,1032.7 1292.4,1021.8 1279.7,1004.1 1278.5,986.3 1284.8,971.1" fill="#bfff40"/>
<polygon points="370.0,693.7 376.0,693.7 398.0,702.5 410.6,704.6 432.2,702.5 446.1,707.6 471.4,710.1 501.8,729.1 522.0,740.5 542.3,749.4 570.1,756.5 582.8,751.9 598.0,740.5 625.8,734.2 638.5,736.7 663.8,739.2 689.1,750.6 714.4,765.8 739.7,786.1 765.1,798.7 777.7,801.3 792.9,803.8 805.6,812.7 823.3,821.5 834.7,830.4 841.0,824.1 848.6,821.5 862.5,807.6 876.5,808.4 885.3,822.8 887.8,841.8 881.5,864.6 873.9,877.2 862.5,882.3 841.0,870.9 833.4,862.0 805.6,849.4 777.7,846.3 762.5,853.2 747.3,858.2 734.7,864.6 734.7,889.9 737.2,905.1 727.1,920.0 709.4,945.8 691.6,966.1 684.1,986.3 681.5,1004.1 667.6,1018.0 656.2,1026.8 625.8,1047.1 613.2,1043.3 599.2,1040.0 587.8,1024.3 575.2,1009.1 562.5,999.0 547.3,988.9 529.6,983.3 501.8,992.7 486.6,1004.1 471.4,1018.0 446.1,1024.3 428.4,1024.3 418.2,1025.6 398.0,1016.7 376.0,1011.6 370.0,1011.6" fill="#ffff00"/>
<polygon points="1909.3,991.4 1903.3,991.4 1889.4,986.3 1875.4,988.9 1861.5,990.1 1847.6,990.1 1833.7,986.8 1819.7,981.3 1812.2,966.1 1804.6,945.8 1797.0,918.0 1789.4,897.7 1779.2,880.0 1764.1,877.2 1748.9,864.6 1743.8,846.8 1740.0,824.1 1746.3,796.2 1753.9,781.0 1764.1,770.9 1778.0,760.3 1791.9,769.6 1805.8,778.5 1812.2,763.3 1819.7,744.3 1834.9,727.8 1842.5,712.7 1852.7,694.9 1859.0,678.5 1875.4,669.6 1890.6,675.2 1903.3,674.2 1909.3,674.2" fill="#ffff00"/>
<polygon points="1909.3,753.2 1903.3,753.2 1898.2,745.6 1889.4,735.9 1879.2,741.8 1881.8,763.3 1885.6,791.1 1890.6,816.5 1898.2,822.8 1903.3,826.6 1909.3,826.6" fill="#bfff40"/>
<polygon points="1850.1,864.6 1861.5,846.3 1863.3,865.1" fill="#ffbf00"/>
<polygon points="370.0,701.3 376.0,701.3 390.4,713.9 410.6,716.5 432.2,720.3 446.1,726.6 460.0,726.6 471.4,724.1 501.8,738.0 522.0,749.4 542.3,763.3 557.5,773.4 570.1,775.9 582.8,767.1 598.0,754.4 613.2,749.4 625.8,748.1 638.5,751.9 663.8,760.8 682.8,762.8 691.6,774.7 699.2,783.5 699.2,803.8 684.1,826.6 663.8,836.7 638.5,850.6 613.2,884.8 598.0,910.1 585.3,913.9 580.3,920.0 571.4,947.1 557.5,953.4 527.1,958.5 522.0,966.1 501.8,973.7 491.6,977.5 471.4,991.4 446.1,999.0 418.2,1006.6 405.6,992.7 390.4,988.9 376.0,988.4 370.0,988.4" fill="#ffbf00"/>
<polygon points="446.1,763.3 471.4,756.2 491.6,757.7 504.3,763.3 514.4,778.5 522.0,783.5 522.0,802.5 509.4,820.3 481.5,841.8 461.3,854.4 446.1,868.4 432.2,865.8 424.6,841.8 417.0,824.1 420.8,803.8 432.2,773.4" fill="#ff8000"/>
<polygon points="370.0,906.6 376.0,906.6 390.4,925.6 405.1,947.1 376.0,953.4 370.0,953.4" fill="#ff8000"/>
<polygon points="417.7,965.0 419.7,965.0 419.7,967.0 417.7,967.0" fill="#000"/>
<polygon points="1527.8,131.7 1529.4,131.7 1530.2,151.0 1530.0,154.0 1528.6,156.0 1527.2,154.0 1527.0,151.0" fill="#000"/>
<polygon points="1763.8,131.7 1765.4,131.7 1766.2,151.0 1766.0,154.0 1764.6,156.0 1763.2,154.0 1763.0,151.0" fill="#000"/>
<polygon points="1850.7,150.4 1850.4,151.7 1849.4,152.7 1848.1,153.0 1846.8,152.7 1845.8,151.7 1845.5,150.4 1845.8,149.1 1846.8,148.1 1848.1,147.8 1849.4,148.1 1850.4,149.1" fill="#000"/>
<g fill="none" stroke="#000" stroke-width="1.8" stroke-linejoin="round">
<polyline points="370.0,572.2 376.0,572.2 390.4,570.9 410.6,553.2 432.2,539.2 446.1,541.0 460.0,540.5 471.4,538.0 479.0,548.1 501.8,574.7 522.0,586.1 542.3,593.2 554.9,589.9 567.6,581.0 582.8,560.8 598.0,543.5 613.2,548.1 625.8,558.2 638.5,567.8 653.7,572.2 668.9,575.2 684.1,581.0 709.4,603.8 734.7,619.0 754.9,634.2 777.7,643.0 792.9,632.9 806.8,631.6 820.8,632.2 841.0,606.3 861.3,586.8 876.5,606.3 889.1,636.7 904.3,649.4 915.2,654.4 932.9,677.2 950.6,705.1 973.4,735.4 986.1,731.6 1001.3,746.8 1011.4,765.8 1024.1,782.3 1041.8,796.2 1057.0,807.6 1072.2,831.6 1083.5,831.6 1094.9,821.5 1111.4,794.9 1125.3,811.4 1139.2,828.4 1145.6,824.1 1155.7,791.1 1164.6,760.8 1163.3,722.8 1158.2,677.2 1153.2,631.6 1146.8,596.2 1139.2,570.9 1136.7,545.6 1139.2,520.3 1143.0,500.0 1149.4,475.7 1153.2,470.6 1168.4,474.4 1182.3,479.0 1194.9,477.5 1201.3,458.0 1211.4,446.6 1224.1,431.4 1239.2,428.4 1264.6,421.3 1267.1,398.5 1272.2,368.1 1274.7,351.6 1289.9,337.7 1307.6,320.0 1308.9,312.4 1304.3,294.7 1320.3,271.9 1319.7,251.6 1330.4,228.9 1335.4,225.1 1363.3,218.7 1368.4,203.5 1370.9,190.9 1386.1,173.2 1388.1,165.6 1385.6,150.4 1389.9,131.7 1389.9,125.7"/>
<polyline points="370.0,1524.6 376.0,1524.6 390.4,1535.9 404.3,1541.0 418.2,1538.0 432.2,1530.9 446.1,1525.3 460.0,1529.6 468.9,1537.2 473.9,1538.0 487.8,1522.8 501.8,1527.8 514.4,1535.9 528.4,1539.0 543.5,1538.5 557.5,1518.2 562.5,1500.5 566.3,1475.2 568.9,1437.2 572.7,1411.9 577.7,1391.6 585.3,1376.5 598.0,1367.6 610.6,1366.8 625.8,1371.4 639.7,1366.8 653.7,1362.5 667.6,1365.1 681.5,1370.1 695.4,1368.9 709.4,1379.0 722.0,1382.8 737.2,1379.0 751.1,1382.0 765.1,1373.9 779.0,1367.6 792.9,1372.7 806.8,1375.2 820.8,1376.5 834.7,1377.0 848.6,1375.2 862.5,1382.0 876.5,1377.0 889.1,1365.1 904.3,1370.1 920.0,1358.7 930.4,1351.1 945.6,1350.6 958.2,1348.6 973.4,1344.8 986.1,1343.5 1001.3,1339.7 1015.2,1333.4 1029.1,1320.8 1041.8,1320.3 1057.0,1317.0 1072.2,1320.8 1086.1,1323.3 1100.0,1327.1 1113.9,1328.9 1127.8,1326.3 1140.5,1323.3 1153.2,1320.3 1167.1,1323.8 1181.0,1319.5 1194.9,1305.6 1208.9,1291.6 1222.8,1280.8 1231.6,1285.3 1250.6,1299.2 1264.6,1310.6 1279.7,1325.8 1292.4,1335.9 1305.1,1339.0 1321.5,1346.1 1332.9,1343.5 1349.4,1354.9 1363.3,1359.2 1374.7,1360.0 1388.6,1354.9 1403.8,1349.9 1416.5,1341.0 1431.6,1328.4 1444.3,1321.5 1460.0,1329.6 1467.8,1348.6 1478.0,1361.3 1490.6,1373.9 1505.8,1386.6 1523.5,1400.5 1541.3,1410.6 1556.5,1422.0 1571.6,1434.7 1584.3,1441.0 1597.0,1439.7 1612.2,1446.8 1622.3,1443.5 1637.5,1439.2 1652.7,1439.2 1667.8,1437.2 1680.5,1440.3 1695.7,1437.2 1708.4,1425.8 1721.0,1420.8 1734.9,1422.0 1748.9,1425.1 1764.1,1429.1 1778.0,1424.6 1779.2,1401.8 1781.8,1366.3 1784.3,1351.1 1794.4,1342.3 1807.1,1339.7 1819.7,1342.3 1833.7,1352.4 1847.6,1363.3 1861.5,1364.3 1875.4,1363.3 1889.4,1373.9 1903.3,1384.1 1909.3,1384.1"/>
<polygon points="1460.0,203.5 1444.3,183.3 1431.6,169.4 1416.5,169.4 1403.8,190.9 1386.1,211.1 1403.8,223.8 1419.0,244.1 1431.6,258.0 1444.3,258.7 1460.0,274.4 1472.9,289.6 1486.8,304.8 1500.8,312.9 1514.7,305.3 1527.3,306.8 1541.3,302.3 1556.5,297.2 1565.3,297.2 1571.6,293.4 1566.6,282.0 1559.0,269.4 1550.1,252.9 1557.7,244.1 1571.6,237.7 1583.0,232.7 1584.3,214.9 1570.4,204.1 1556.5,211.6 1543.8,203.5 1537.5,211.1 1534.9,231.4 1528.6,246.6 1508.4,227.6 1489.4,208.6 1490.6,193.4 1486.8,187.1 1472.9,188.4 1459.0,203.0 1440.0,178.2"/>
<polygon points="1605.8,211.6 1614.7,201.5 1624.8,196.7 1631.1,203.5 1636.2,213.7 1637.5,232.7 1626.8,237.0 1619.7,226.3 1612.2,217.5"/>
<polygon points="1637.5,171.9 1640.0,166.8 1647.6,171.9 1640.0,177.7"/>
<polygon points="1664.1,125.7 1664.1,131.7 1657.7,145.3 1652.7,152.9 1657.7,160.5 1667.8,170.6 1680.5,163.0 1690.6,151.6 1689.4,131.7 1689.4,125.7"/>
<polyline points="1702.0,125.7 1702.0,131.7 1703.3,150.4 1713.4,163.0 1721.0,171.9 1717.2,190.9 1714.7,206.1 1709.6,231.4 1718.5,239.0 1731.1,244.1 1743.8,246.6 1750.1,247.8 1756.5,259.2 1764.1,272.7 1779.2,278.2 1794.4,283.3 1805.8,287.1 1810.9,294.7 1821.0,305.6 1833.7,300.3 1847.6,294.2 1855.2,282.0 1861.5,260.5 1870.4,268.1 1876.7,274.4 1881.8,292.2 1886.8,302.3 1893.2,306.8 1903.3,306.8"/>
<polyline points="1903.3,144.1 1895.7,131.7"/>
<polygon points="1732.4,171.9 1743.8,182.0 1756.5,189.6 1766.6,191.6 1779.2,192.2 1766.6,193.4 1751.4,195.9 1733.7,191.4"/>
<polygon points="1277.2,297.2 1284.8,313.7 1278.5,317.5 1275.9,308.6"/>
<polyline points="1556.5,125.7 1556.5,131.7 1569.1,135.7 1580.5,131.7 1580.5,125.7"/>
<polyline points="370.0,623.3 376.0,623.3 390.4,620.3 410.6,606.3 425.8,594.9 446.1,591.6 471.4,595.7 481.5,606.3 501.8,636.7 522.0,659.5 542.3,669.1 560.0,662.0 577.7,654.4 587.8,644.3 598.0,626.6 613.2,617.7 625.8,617.7 638.5,623.5 663.8,625.3 689.1,636.7 714.4,648.1 739.7,658.2 765.1,670.9 777.7,674.7 792.9,665.8 806.8,664.1 820.8,666.6 835.9,657.0 848.6,638.0 861.3,633.7 873.9,649.4 886.6,662.0 904.3,674.7 915.2,681.0 932.9,702.5 950.6,730.4 973.4,759.5 986.1,757.0 1001.3,773.4 1011.4,791.1 1024.1,806.3 1041.8,821.5 1057.0,834.2 1072.2,862.0 1083.5,862.0 1094.9,857.0 1111.4,846.8 1125.3,857.0 1139.2,870.9 1155.7,874.7 1165.8,873.4 1178.5,882.3 1194.9,891.9 1207.6,884.8 1215.2,859.5 1219.0,829.1 1226.6,791.1 1231.6,753.2 1236.7,715.2 1240.5,682.3 1236.7,664.6 1226.6,641.8 1217.7,619.0 1210.1,602.5 1197.5,599.2 1181.0,603.3 1178.5,575.9 1178.5,555.7 1182.3,553.2 1188.6,563.3 1194.9,575.4 1208.9,575.4 1213.9,560.8 1224.1,555.2 1241.8,553.2 1264.6,553.2 1277.2,547.6 1294.9,549.4 1315.2,551.9 1330.4,540.5 1350.6,522.8 1368.4,507.6 1373.4,500.0 1381.0,487.1 1386.1,471.9 1388.6,444.1 1396.2,416.2 1402.5,393.4 1416.5,369.4 1431.6,373.9 1444.3,366.8 1460.0,355.4 1472.9,364.3 1486.8,373.9 1500.8,372.7 1514.7,368.1 1528.6,366.1 1541.3,369.4 1556.5,371.1 1570.4,373.2 1584.3,363.0 1598.2,354.2 1612.2,352.9 1626.1,352.9 1640.0,351.6 1653.9,354.2 1667.8,356.7 1680.5,359.2 1693.2,354.9 1708.4,354.2 1721.0,355.9 1736.2,358.5 1748.9,357.5 1765.3,365.1 1779.2,363.0 1791.9,362.5 1805.8,366.8 1819.7,371.9 1833.7,372.4 1847.6,374.4 1861.5,378.7 1875.4,377.0 1889.4,378.7 1903.3,385.8 1909.3,385.8"/>
<polyline points="370.0,1299.0 376.0,1299.0 398.0,1297.7 418.2,1296.5 432.2,1290.1 446.1,1283.0 460.0,1285.1 473.9,1290.1 486.6,1282.5 501.8,1273.7 514.4,1272.4 524.6,1264.8 534.7,1254.7 544.8,1244.6 557.5,1231.4 570.1,1231.4 577.7,1237.0 598.0,1249.6 613.2,1258.5 625.8,1269.9 639.7,1274.9 653.7,1282.5 668.9,1295.2 681.5,1300.0 696.7,1303.0 709.4,1317.0 722.0,1324.6 737.2,1328.4 751.1,1327.8 765.1,1309.4 779.0,1295.9 790.4,1298.0 806.8,1305.6 820.8,1312.7 835.9,1300.5 848.6,1290.4 862.5,1284.1 876.5,1278.2 891.6,1284.8 904.3,1292.4 920.0,1289.1 932.9,1282.5 945.6,1280.0 960.8,1269.9 973.4,1257.2 988.6,1252.2 1001.3,1239.5 1013.9,1224.3 1026.6,1214.2 1041.8,1214.2 1057.0,1206.6 1069.6,1196.5 1097.5,1201.5 1110.1,1195.2 1120.3,1183.8 1127.8,1178.7 1153.2,1174.2 1168.4,1181.3 1181.0,1187.6 1193.7,1190.1 1208.9,1199.0 1224.1,1209.1 1239.2,1219.2 1246.8,1244.6 1264.6,1259.7 1279.7,1274.9 1293.7,1285.1 1305.1,1295.2 1310.1,1300.0 1321.5,1305.6 1335.4,1310.6 1349.4,1314.4 1363.3,1319.5 1375.9,1332.9 1388.6,1325.8 1403.8,1320.8 1416.5,1311.9 1429.1,1298.0 1444.3,1289.9 1460.0,1295.4 1467.8,1308.1 1478.0,1320.8 1490.6,1334.7 1505.8,1344.8 1523.5,1352.4 1541.3,1361.3 1556.5,1366.3 1571.6,1371.4 1584.3,1375.2 1597.0,1375.9 1604.6,1382.8 1612.2,1391.1 1622.3,1387.8 1632.4,1381.5 1640.0,1373.9 1647.6,1358.7 1655.2,1344.8 1667.8,1332.2 1680.5,1318.2 1693.2,1305.6 1707.1,1297.5 1721.0,1289.9 1734.9,1289.9 1751.4,1299.2 1762.8,1298.0 1776.7,1287.3 1790.6,1280.8 1804.6,1278.2 1819.7,1281.5 1833.7,1287.8 1847.6,1294.2 1861.5,1295.9 1875.4,1299.2 1888.1,1301.0 1903.3,1295.4 1909.3,1295.4"/>
<polyline points="370.0,650.6 376.0,650.6 398.0,651.4 410.6,646.8 432.2,638.0 446.1,641.8 471.4,645.6 481.5,651.9 501.8,667.1 522.0,682.3 542.3,693.7 562.5,691.1 580.3,687.3 598.0,678.5 625.8,671.6 638.5,674.7 663.8,677.2 689.1,683.5 722.0,687.3 739.7,692.4 765.1,702.5 777.7,706.3 792.9,700.0 806.8,698.0 820.8,697.5 835.9,688.6 848.6,675.9 861.3,674.2 873.9,682.3 891.6,688.6 906.8,700.0 932.9,725.3 950.6,753.2 973.4,781.0 986.1,778.5 1001.3,793.7 1011.4,811.4 1024.1,826.6 1041.8,844.3 1057.0,857.0 1072.2,884.8 1083.5,887.3 1094.9,884.8 1111.4,879.7 1125.3,888.6 1139.2,898.7 1155.7,900.0 1165.8,900.0 1178.5,907.6 1191.1,920.0 1210.1,940.8 1219.0,934.4 1224.1,925.6 1229.1,905.3 1234.2,887.6 1235.4,880.0 1249.4,864.6 1254.4,849.4 1259.5,836.7 1274.7,808.9 1289.9,786.1 1292.4,765.8 1289.9,740.5 1282.3,702.5 1274.7,664.6 1273.4,639.2 1277.2,626.6 1289.9,622.8 1307.6,622.8 1320.3,626.6 1330.4,624.6 1345.6,629.1 1360.8,630.4 1381.0,625.3 1396.2,617.7 1411.4,611.4 1426.6,603.8 1444.3,594.9 1460.0,588.1 1480.5,586.1 1500.8,578.5 1515.9,558.2 1526.1,538.0 1528.6,515.2 1531.1,500.0 1538.7,471.9 1543.8,464.3 1556.5,458.0 1570.4,455.4 1584.3,444.1 1598.2,433.9 1612.2,422.5 1626.1,421.8 1640.0,421.3 1653.9,420.0 1667.8,421.3 1680.5,425.1 1693.2,429.4 1708.4,430.9 1721.0,429.4 1736.2,433.2 1748.9,426.3 1764.1,420.0 1779.2,421.3 1791.9,420.8 1805.8,421.8 1819.7,422.5 1833.7,421.3 1847.6,423.8 1861.5,427.6 1875.4,428.9 1889.4,426.8 1903.3,428.9 1909.3,428.9"/>
<polyline points="1909.3,1249.6 1903.3,1249.6 1889.4,1263.5 1875.4,1266.1 1861.5,1266.8 1847.6,1264.8 1833.7,1261.0 1819.7,1255.9 1805.8,1250.1 1791.9,1247.1 1776.7,1250.9 1764.1,1250.1 1748.9,1237.0 1734.9,1233.2 1721.0,1231.9 1708.4,1228.1 1693.2,1224.3 1680.5,1220.5 1667.8,1218.0 1653.9,1216.7 1640.0,1206.6 1626.1,1197.7 1597.0,1197.7 1584.3,1201.0 1569.1,1200.3 1561.5,1209.1 1551.4,1221.8 1542.5,1238.2 1528.6,1244.6 1513.4,1256.7 1498.2,1249.6 1485.6,1234.4 1472.9,1221.8 1457.7,1205.3 1440.0,1206.6 1419.0,1216.7 1403.8,1239.5 1381.0,1247.1 1363.3,1252.2 1348.1,1254.7 1335.4,1239.5 1321.5,1244.6 1307.6,1234.4 1293.7,1237.0 1279.7,1219.2 1265.8,1206.1 1250.6,1206.6 1239.2,1183.8 1231.6,1166.1 1224.1,1148.4 1208.9,1135.7 1193.7,1140.3 1181.0,1138.2 1168.4,1133.2 1153.2,1126.8 1140.5,1120.5 1125.3,1119.2 1112.7,1129.4 1097.5,1140.8 1082.3,1135.7 1069.6,1134.4 1057.0,1145.8 1044.3,1153.4 1029.1,1148.4 1016.5,1154.7 1001.3,1163.5 986.1,1166.1 973.4,1163.0 945.6,1171.1 925.3,1188.9 910.1,1209.1 900.0,1216.7 876.5,1219.2 862.5,1224.3 848.6,1221.8 835.9,1228.1 820.8,1244.6 806.8,1252.2 792.9,1248.4 779.0,1240.8 765.1,1243.3 754.9,1257.2 744.8,1264.8 734.7,1273.7 722.0,1275.4 709.4,1264.8 696.7,1252.2 681.5,1247.1 668.9,1244.6 653.7,1237.0 625.8,1226.8 613.2,1214.2 598.0,1196.5 587.8,1183.8 577.7,1171.1 570.1,1162.3 557.5,1161.0 544.8,1169.9 534.7,1183.8 524.6,1193.9 514.4,1200.3 501.8,1196.5 486.6,1206.6 473.9,1219.2 460.0,1225.6 446.1,1221.8 418.2,1220.5 398.0,1214.2 376.0,1211.6 370.0,1211.6"/>
<polygon points="1403.5,657.8 1416.8,650.8 1431.0,660.6 1445.2,670.1 1459.5,662.5 1460.4,678.7 1451.9,692.9 1444.3,706.2 1438.6,721.4 1431.0,734.7 1421.5,747.0 1416.8,749.9 1402.5,750.8 1390.2,754.0 1383.5,742.3 1381.6,725.2 1384.5,704.3 1389.2,685.3 1396.8,670.1"/>
<polygon points="1459.5,662.5 1471.8,657.8 1487.0,655.9 1491.8,659.7 1488.0,665.4 1475.6,666.7 1461.4,664.0"/>
<polyline points="370.0,663.3 376.0,663.3 398.0,667.1 410.6,665.8 432.2,659.5 446.1,665.8 471.4,668.4 481.5,672.2 501.8,686.1 522.0,698.7 542.3,708.9 570.1,709.6 582.8,706.3 598.0,698.7 625.8,691.9 638.5,693.7 663.8,696.2 689.1,702.5 722.0,708.9 739.7,715.2 765.1,725.3 777.7,729.1 792.9,724.1 820.8,725.8 835.9,719.0 848.6,707.6 861.3,704.6 879.0,708.1 891.6,712.2 906.8,722.8 915.2,734.2 932.9,750.6 950.6,775.9 973.4,803.8 986.1,802.5 1001.3,816.5 1011.4,831.6 1024.1,846.8 1041.8,864.6 1057.0,879.7 1072.2,907.6 1083.5,911.4 1094.9,908.9 1111.4,905.1 1125.3,911.4 1139.2,920.0 1153.2,920.5 1168.4,921.8 1178.5,930.6 1210.1,962.3 1224.1,955.9 1239.2,930.6 1254.4,918.0 1265.8,900.3 1272.2,880.0 1294.9,860.0 1315.2,864.6 1327.8,879.7 1335.4,902.5 1343.0,920.0 1355.7,928.1 1373.4,943.3 1388.6,963.5 1403.8,978.7 1416.5,988.4 1431.6,985.1 1439.2,966.1 1436.7,953.4 1431.6,940.8 1421.5,935.7 1403.8,920.5 1388.6,900.3 1378.5,880.0 1368.4,841.8 1355.7,816.5 1351.9,798.7 1353.2,782.3 1363.3,777.2 1375.9,786.1 1391.1,794.2 1406.3,792.4 1421.5,796.7 1440.0,774.7 1452.7,763.3 1465.3,749.4 1472.9,736.7 1490.6,721.5 1515.9,721.5 1528.6,736.7 1541.3,725.3 1551.4,719.0 1559.0,710.1 1561.5,692.4 1559.0,678.5 1541.3,662.0 1541.3,640.5 1551.4,631.6 1566.6,621.5 1580.5,601.3 1586.8,583.5 1594.4,563.3 1602.0,553.2 1614.7,545.6 1627.3,540.5 1634.9,527.8 1650.1,513.9 1667.8,511.4 1680.5,506.3 1708.4,506.3 1737.5,522.3 1753.9,500.0 1764.1,484.6 1779.2,482.5 1791.9,479.5 1805.8,477.5 1819.7,471.9 1833.7,466.8 1847.6,465.6 1861.5,466.3 1875.4,466.8 1889.4,467.3 1903.3,466.3 1909.3,466.3"/>
<polyline points="1909.3,1237.0 1903.3,1237.0 1889.4,1244.6 1875.4,1248.4 1861.5,1252.7 1847.6,1244.6 1833.7,1242.5 1819.7,1243.3 1805.8,1237.0 1791.9,1229.4 1776.7,1220.5 1764.1,1221.3 1748.9,1218.0 1734.9,1214.2 1721.0,1215.4 1708.4,1211.6 1693.2,1205.3 1680.5,1199.0 1667.8,1196.5 1655.2,1195.2 1640.0,1183.8 1626.1,1169.9 1612.2,1166.1 1597.0,1168.1 1584.3,1167.3 1566.6,1155.9 1556.5,1148.4 1541.3,1140.8 1528.6,1137.0 1515.9,1136.2 1500.8,1137.7 1485.6,1148.4 1472.9,1156.5 1455.2,1148.4 1440.0,1139.5 1421.5,1137.0 1403.8,1138.2 1375.9,1138.2 1363.3,1145.8 1348.1,1159.7 1335.4,1177.5 1321.5,1186.3 1307.6,1182.5 1293.7,1185.1 1279.7,1173.7 1265.8,1159.7 1250.6,1163.0 1239.2,1153.4 1231.6,1135.7 1224.1,1118.0 1208.9,1102.8 1193.7,1104.8 1181.0,1100.3 1168.4,1090.1 1153.2,1080.0 1140.5,1074.9 1127.8,1067.3 1111.4,1061.8 1100.0,1064.8 1084.8,1068.6 1072.2,1082.5 1057.0,1096.5 1041.8,1102.8 1026.6,1109.1 1016.5,1118.0 1001.3,1131.9 986.1,1125.6 973.4,1121.8 960.8,1129.4 945.6,1130.6 932.9,1138.2 917.7,1156.5 900.0,1154.7 879.0,1158.5 862.5,1170.6 848.6,1157.2 835.9,1147.1 820.8,1163.5 806.8,1181.3 792.9,1183.3 779.0,1176.2 765.1,1176.7 754.9,1196.5 744.8,1216.7 734.7,1226.3 722.0,1229.4 709.4,1225.6 696.7,1214.2 681.5,1209.1 668.9,1206.6 653.7,1201.5 625.8,1193.9 613.2,1178.7 598.0,1158.5 587.8,1145.8 577.7,1133.2 570.1,1123.0 557.5,1123.5 544.8,1130.6 534.7,1145.8 524.6,1161.0 514.4,1167.3 501.8,1163.5 486.6,1174.9 473.9,1187.6 460.0,1197.7 446.1,1191.4 432.2,1186.3 418.2,1183.8 398.0,1171.1 376.0,1163.5 370.0,1163.5"/>
<polyline points="370.0,672.2 376.0,672.2 398.0,677.2 410.6,677.2 432.2,673.4 446.1,678.5 471.4,681.0 501.8,700.0 522.0,711.4 542.3,722.8 570.1,723.3 582.8,719.7 598.0,712.2 625.8,704.6 638.5,708.1 663.8,710.1 689.1,717.2 722.0,725.3 739.7,731.6 765.1,740.5 777.7,746.8 792.9,744.3 820.8,751.9 835.9,746.8 848.6,740.5 876.5,734.2 891.6,738.0 906.8,750.6 915.2,760.8 932.9,775.9 950.6,798.7 973.4,825.3 986.1,824.1 1001.3,836.7 1011.4,851.9 1024.1,867.1 1041.8,884.8 1057.0,902.5 1067.1,920.0 1087.3,916.7 1110.1,912.9 1127.8,928.1 1153.2,940.8 1168.4,943.3 1178.5,952.2 1210.1,981.3 1224.1,977.5 1239.2,953.4 1254.4,945.8 1264.6,943.3 1277.2,923.0 1292.4,904.1 1305.1,910.4 1320.3,912.9 1330.4,938.2 1345.6,948.4 1363.3,963.5 1375.9,986.3 1396.2,1004.1 1421.5,1021.8 1444.3,1038.2 1460.0,1031.9 1467.8,1011.6 1472.9,988.9 1485.6,963.5 1500.8,943.3 1514.7,920.5 1517.2,905.3 1510.9,892.7 1500.8,882.5 1486.8,890.6 1472.9,892.7 1452.7,880.0 1445.1,864.6 1440.0,846.8 1440.0,829.1 1442.5,813.9 1452.7,793.7 1465.3,782.3 1486.8,773.4 1513.4,772.2 1528.6,777.2 1546.3,763.3 1561.5,746.8 1571.6,731.6 1584.3,725.3 1600.8,722.8 1607.1,702.5 1604.6,682.3 1599.5,660.8 1612.2,641.8 1629.9,624.1 1650.1,601.3 1660.3,583.5 1678.0,567.1 1708.4,562.0 1726.1,569.6 1750.1,575.2 1766.6,560.8 1776.7,551.9 1794.4,540.5 1805.8,529.9 1819.7,526.6 1847.6,513.9 1870.4,516.5 1889.4,519.0 1903.3,512.7 1909.3,512.7"/>
<polyline points="1909.3,1220.5 1903.3,1220.5 1889.4,1227.3 1875.4,1230.6 1861.5,1227.3 1847.6,1227.3 1833.7,1228.9 1819.7,1232.7 1805.8,1226.3 1791.9,1216.7 1776.7,1206.6 1748.9,1201.0 1734.9,1197.7 1721.0,1199.5 1708.4,1199.5 1693.2,1193.9 1680.5,1185.1 1667.8,1178.7 1655.2,1174.9 1640.0,1167.3 1626.1,1147.1 1612.2,1146.3 1597.0,1149.6 1584.3,1145.8 1566.6,1128.1 1556.5,1115.4 1541.3,1109.9 1528.6,1102.8 1515.9,1097.7 1500.8,1093.2 1485.6,1095.2 1472.9,1100.8 1455.2,1099.7 1440.0,1095.2 1419.0,1088.9 1388.6,1081.3 1368.4,1082.5 1348.1,1087.6 1330.4,1102.8 1320.3,1116.7 1305.1,1118.0 1293.7,1124.3 1279.7,1105.3 1265.8,1093.9 1251.9,1096.5 1239.2,1087.6 1224.1,1072.4 1208.9,1059.7 1178.5,1057.2 1153.2,1047.1 1127.8,1037.0 1110.1,1031.4 1087.3,1031.4 1064.6,1034.4 1041.8,1038.2 1026.6,1037.0 1011.4,1047.1 996.2,1060.3 973.4,1059.7 948.1,1074.9 932.9,1082.5 917.7,1095.7 900.0,1096.5 881.5,1106.6 862.5,1120.5 848.6,1105.3 841.0,1087.6 833.4,1073.7 820.8,1074.4 806.8,1092.7 792.9,1104.1 779.0,1096.5 765.1,1106.6 749.9,1123.0 734.7,1138.2 722.0,1155.9 696.7,1158.5 681.5,1161.0 668.9,1166.1 653.7,1167.3 639.7,1159.7 625.8,1160.5 613.2,1148.4 598.0,1125.6 587.8,1107.8 577.7,1092.7 570.1,1082.5 557.5,1082.5 542.3,1085.6 532.2,1095.2 524.6,1107.8 514.4,1124.3 501.8,1126.8 486.6,1145.8 473.9,1161.0 460.0,1173.7 446.1,1161.0 432.2,1150.9 418.2,1145.8 405.6,1123.0 390.4,1102.8 376.0,1095.2 370.0,1095.2"/>
<polyline points="370.0,679.7 376.0,679.7 398.0,686.1 410.6,686.8 432.2,683.5 446.1,688.6 471.4,691.1 501.8,710.1 522.0,721.5 542.3,731.6 570.1,732.4 582.8,729.1 598.0,720.8 625.8,713.9 638.5,717.2 663.8,719.7 689.1,727.8 722.0,739.2 739.7,749.4 765.1,760.8 777.7,765.8 792.9,764.6 820.8,772.9 835.9,768.4 848.6,763.3 876.5,756.5 891.6,760.8 906.8,773.4 932.9,793.7 950.6,813.9 973.4,836.7 986.1,834.2 1001.3,850.6 1011.4,864.6 1024.1,879.7 1041.8,900.0 1054.4,920.0 1069.6,942.0 1082.3,937.0 1100.0,937.0 1115.2,943.3 1127.8,955.9 1140.5,968.6 1160.8,986.3 1153.2,1006.1 1127.8,1001.5 1110.1,997.0 1084.8,998.5 1064.6,993.9 1041.8,987.6 1021.5,982.5 1001.3,981.3 973.4,973.7 945.6,981.3 938.0,991.4 925.3,1014.2 912.7,1028.1 900.0,1039.5 889.1,1047.1 876.5,1045.8 862.5,1053.4 848.6,1042.0 833.4,1024.3 820.8,1006.6 806.8,1011.6 792.9,1042.0 779.0,1043.3 765.1,1037.0 739.7,1057.2 714.4,1080.0 696.7,1095.2 681.5,1102.8 668.9,1104.1 653.7,1115.4 625.8,1121.8 613.2,1112.9 598.0,1100.3 587.8,1082.5 577.7,1062.3 570.1,1045.8 557.5,1044.6 542.3,1042.0 528.4,1038.2 514.4,1047.1 501.8,1064.8 486.6,1090.1 476.5,1120.5 460.0,1145.8 446.1,1134.4 432.2,1118.0 418.2,1114.9 408.1,1095.2 398.0,1080.0 385.3,1072.4 376.0,1068.6 370.0,1068.6"/>
<polyline points="1909.3,1198.5 1903.3,1198.5 1889.4,1212.2 1878.0,1212.9 1867.8,1210.4 1861.5,1204.6 1857.7,1210.4 1847.6,1214.7 1833.7,1209.1 1819.7,1212.2 1805.8,1211.1 1797.0,1190.1 1802.0,1173.7 1804.6,1153.4 1799.5,1133.2 1791.9,1122.5 1779.2,1121.0 1764.1,1107.8 1751.4,1095.2 1737.5,1080.0 1721.0,1077.5 1708.4,1074.9 1693.2,1067.3 1680.5,1054.7 1667.8,1031.9 1659.0,1006.6 1660.3,968.6 1664.1,930.6 1662.8,905.3 1657.7,880.0 1650.1,864.6 1640.0,853.2 1622.3,879.7 1612.2,897.5 1598.2,888.6 1584.3,894.4 1571.6,879.7 1561.5,864.6 1555.2,846.8 1552.7,824.1 1556.5,805.1 1571.6,794.9 1586.8,782.3 1602.0,768.4 1622.3,755.7 1640.0,738.0 1653.9,729.1 1667.8,735.4 1683.0,741.8 1695.7,738.0 1700.8,722.8 1699.5,697.5 1695.7,677.2 1680.5,677.2 1666.6,675.9 1655.2,660.8 1662.8,646.8 1675.4,632.9 1693.2,624.1 1708.4,610.1 1722.3,603.8 1750.1,608.9 1764.1,602.5 1779.2,602.5 1791.9,607.6 1819.7,592.4 1834.9,580.5 1865.3,577.2 1889.4,575.9 1903.3,569.6 1909.3,569.6"/>
<polygon points="1292.4,931.9 1305.1,939.5 1317.7,948.4 1330.4,966.1 1353.2,986.3 1365.8,1009.1 1364.6,1028.1 1345.6,1045.8 1330.4,1054.7 1305.1,1066.1 1293.7,1066.1 1279.7,1054.7 1251.9,1042.0 1236.7,1031.9 1221.5,1027.3 1222.8,1006.6 1236.7,988.9 1251.9,971.1 1265.8,968.6 1279.7,944.6"/>
<polygon points="1175.4,1006.1 1181.0,1003.5 1187.3,1006.6 1181.0,1009.9"/>
<polygon points="1585.6,1079.5 1598.2,1082.0 1605.8,1092.7 1612.2,1107.8 1598.2,1129.4 1584.3,1121.8 1578.0,1106.6 1579.2,1090.1"/>
<polygon points="1739.5,1169.9 1751.4,1162.3 1765.3,1168.6 1764.1,1173.7 1751.4,1180.8"/>
<polyline points="370.0,686.6 376.0,686.6 398.0,693.7 410.6,694.9 432.2,692.9 446.1,698.0 471.4,700.0 501.8,720.3 522.0,731.6 542.3,740.5 570.1,744.3 582.8,740.5 598.0,731.6 625.8,724.1 638.5,726.6 663.8,729.1 689.1,739.2 722.0,754.4 739.7,768.4 765.1,779.7 777.7,784.8 792.9,786.1 820.8,793.2 835.9,789.9 848.6,786.1 876.5,778.5 891.6,783.5 906.8,794.9 915.2,801.3 932.9,819.0 950.6,839.2 973.4,863.3 986.1,862.0 1001.3,877.2 1011.4,889.9 1024.1,907.6 1029.1,920.0 1029.1,939.5 1016.5,945.3 1001.3,940.8 983.5,930.6 963.3,921.8 945.6,914.2 931.6,907.8 917.7,915.4 900.0,919.2 881.5,933.2 871.4,953.4 862.5,966.1 848.6,961.0 833.4,966.1 805.6,969.9 790.4,977.5 765.1,993.9 742.3,1014.2 714.4,1042.0 696.7,1059.7 681.5,1057.2 668.9,1059.7 646.1,1069.9 625.8,1082.5 613.2,1078.7 598.0,1073.7 587.8,1059.7 577.7,1042.0 570.1,1026.8 557.5,1014.2 542.3,1006.6 528.4,1003.5 511.9,1007.8 496.7,1018.0 486.6,1031.9 473.9,1052.2 460.0,1069.9 446.1,1078.7 432.2,1061.0 418.2,1064.8 398.0,1049.6 376.0,1045.1 370.0,1045.1"/>
<polyline points="1909.3,1088.9 1903.3,1088.9 1889.4,1083.0 1875.4,1088.9 1861.5,1088.9 1847.6,1074.9 1833.7,1062.3 1819.7,1052.2 1805.8,1042.0 1793.2,1034.4 1779.2,1030.6 1765.3,1031.4 1751.4,1019.2 1737.5,1002.8 1723.5,999.0 1717.2,986.3 1721.0,968.6 1726.1,945.8 1732.4,925.6 1721.0,905.3 1708.4,890.1 1698.2,880.0 1683.0,867.1 1672.9,846.8 1662.8,826.6 1653.9,803.8 1652.7,783.5 1657.7,781.0 1670.4,778.5 1683.0,783.5 1695.7,788.6 1708.4,786.1 1721.0,778.5 1731.1,760.8 1741.3,743.0 1746.3,722.3 1731.1,700.0 1721.0,677.2 1717.2,660.8 1721.0,649.4 1728.6,641.8 1748.9,638.0 1765.3,630.9 1779.2,636.7 1793.2,643.0 1819.7,639.2 1834.9,630.4 1855.2,627.8 1870.4,629.1 1890.6,636.7 1903.3,635.4 1909.3,635.4"/>
<polygon points="1292.4,958.5 1305.1,966.1 1317.7,976.2 1327.8,991.4 1335.4,1007.8 1327.8,1025.6 1317.7,1029.4 1306.3,1032.7 1292.4,1021.8 1279.7,1004.1 1278.5,986.3 1284.8,971.1"/>
<polyline points="370.0,693.7 376.0,693.7 398.0,702.5 410.6,704.6 432.2,702.5 446.1,707.6 471.4,710.1 501.8,729.1 522.0,740.5 542.3,749.4 570.1,756.5 582.8,751.9 598.0,740.5 625.8,734.2 638.5,736.7 663.8,739.2 689.1,750.6 714.4,765.8 739.7,786.1 765.1,798.7 777.7,801.3 792.9,803.8 805.6,812.7 823.3,821.5 834.7,830.4 841.0,824.1 848.6,821.5 862.5,807.6 876.5,808.4 885.3,822.8 887.8,841.8 881.5,864.6 873.9,877.2 862.5,882.3 841.0,870.9 833.4,862.0 805.6,849.4 777.7,846.3 762.5,853.2 747.3,858.2 734.7,864.6 734.7,889.9 737.2,905.1 727.1,920.0 709.4,945.8 691.6,966.1 684.1,986.3 681.5,1004.1 667.6,1018.0 656.2,1026.8 625.8,1047.1 613.2,1043.3 599.2,1040.0 587.8,1024.3 575.2,1009.1 562.5,999.0 547.3,988.9 529.6,983.3 501.8,992.7 486.6,1004.1 471.4,1018.0 446.1,1024.3 428.4,1024.3 418.2,1025.6 398.0,1016.7 376.0,1011.6 370.0,1011.6"/>
<polyline points="1909.3,991.4 1903.3,991.4 1889.4,986.3 1875.4,988.9 1861.5,990.1 1847.6,990.1 1833.7,986.8 1819.7,981.3 1812.2,966.1 1804.6,945.8 1797.0,918.0 1789.4,897.7 1779.2,880.0 1764.1,877.2 1748.9,864.6 1743.8,846.8 1740.0,824.1 1746.3,796.2 1753.9,781.0 1764.1,770.9 1778.0,760.3 1791.9,769.6 1805.8,778.5 1812.2,763.3 1819.7,744.3 1834.9,727.8 1842.5,712.7 1852.7,694.9 1859.0,678.5 1875.4,669.6 1890.6,675.2 1903.3,674.2 1909.3,674.2"/>
<polyline points="1909.3,753.2 1903.3,753.2 1898.2,745.6 1889.4,735.9 1879.2,741.8 1881.8,763.3 1885.6,791.1 1890.6,816.5 1898.2,822.8 1903.3,826.6 1909.3,826.6"/>
<polygon points="1850.1,864.6 1861.5,846.3 1863.3,865.1"/>
<polyline points="370.0,701.3 376.0,701.3 390.4,713.9 410.6,716.5 432.2,720.3 446.1,726.6 460.0,726.6 471.4,724.1 501.8,738.0 522.0,749.4 542.3,763.3 557.5,773.4 570.1,775.9 582.8,767.1 598.0,754.4 613.2,749.4 625.8,748.1 638.5,751.9 663.8,760.8 682.8,762.8 691.6,774.7 699.2,783.5 699.2,803.8 684.1,826.6 663.8,836.7 638.5,850.6 613.2,884.8 598.0,910.1 585.3,913.9 580.3,920.0 571.4,947.1 557.5,953.4 527.1,958.5 522.0,966.1 501.8,973.7 491.6,977.5 471.4,991.4 446.1,999.0 418.2,1006.6 405.6,992.7 390.4,988.9 376.0,988.4 370.0,988.4"/>
<polygon points="446.1,763.3 471.4,756.2 491.6,757.7 504.3,763.3 514.4,778.5 522.0,783.5 522.0,802.5 509.4,820.3 481.5,841.8 461.3,854.4 446.1,868.4 432.2,865.8 424.6,841.8 417.0,824.1 420.8,803.8 432.2,773.4"/>
<polyline points="370.0,906.6 376.0,906.6 390.4,925.6 405.1,947.1 376.0,953.4 370.0,953.4"/>
</g>
<polygon points="737.5,131.6 737.5,151.9 728.4,168.1 730.9,195.9 729.6,221.3 734.7,251.6 737.2,271.9 732.2,297.2 737.2,321.3 744.8,307.3 754.9,284.6 757.5,271.9 753.7,261.8 744.8,251.6 757.5,245.3 752.4,231.4 753.7,193.4 758.7,174.4 751.1,168.1 757.5,142.8 756.2,131.6" fill="#0000ff" stroke="#000" stroke-width="1.4"/>
<polygon points="737.2,208.6 747.3,195.9 751.9,193.4 752.4,236.5 738.5,233.9 735.9,218.7" fill="#0040ff" stroke="#000" stroke-width="1.4"/>
<polygon points="737.5,131.6 742.8,131.6 741.0,145.3 737.5,158.0" fill="#0040ff"/>
</g>
<polygon points="362.1,111.3 584.3,111.3 584.3,131.7 598.2,152.1 556.5,213.2 542.6,213.2 542.6,294.6 528.7,315.0 539.4,335.4 528.7,355.7 514.8,376.1 501.0,376.1 487.1,355.7 487.1,335.4 501.0,315.0 487.1,315.0 473.2,294.6 459.3,294.6 445.4,315.0 362.1,315.0" fill="#fff"/>
<polygon points="639.8,111.3 639.8,131.7 612.0,172.4 598.2,172.4 570.4,213.2 570.4,274.3 598.2,315.0 639.8,315.0 653.7,294.6 625.9,253.9 612.0,253.9 598.2,233.5 625.9,233.5 653.7,192.8 639.8,172.4 723.1,172.4 737.0,152.1 737.0,111.3" fill="#fff"/>
<polygon points="695.3,274.3 709.2,253.9 723.1,274.3 709.2,294.6" fill="#fff"/>
<polygon points="750.9,192.8 764.8,172.4 778.7,192.8 764.8,213.2" fill="#fff"/>
<polygon points="750.9,233.5 764.8,213.2 778.7,233.5 764.8,253.9" fill="#fff"/>
<polygon points="834.2,294.6 848.1,274.3 862.0,294.6 848.1,315.0" fill="#fff"/>
<polygon points="862.0,274.3 875.8,253.9 889.7,274.3 875.8,294.6" fill="#fff"/>
<polygon points="1042.5,192.8 1056.3,172.4 1070.2,192.8 1056.3,213.2" fill="#fff"/>
<polygon points="445.4,376.1 459.3,355.7 473.2,376.1 459.3,396.5" fill="#fff"/>
<polygon points="750.9,274.3 764.8,253.9 778.7,253.9 792.5,274.3 778.7,294.6 764.8,294.6" fill="#fff"/>
<polygon points="362.1,335.4 376.0,335.4 389.9,355.7 376.0,376.1 362.1,376.1" fill="#fff"/>
<polygon points="445.4,131.7 445.4,152.1 431.5,172.4 431.5,192.8 403.8,233.5 376.0,233.5 389.9,253.9 417.7,253.9 417.7,233.5 431.5,213.2 459.3,213.2 459.3,131.7" fill="#0000bf" clip-path="url(#dc)"/>
<polyline points="516.2,315.0 528.7,315.0 539.4,335.4 528.7,355.7" fill="none" stroke="#000" stroke-width="1.6"/>
<polygon points="794.2,1556.7 806.8,1539.7 834.7,1539.2 876.5,1538.0 911.9,1537.2 920.0,1534.7 932.9,1520.3 958.2,1518.7 986.1,1517.7 1013.9,1517.0 1029.1,1537.2 1042.3,1518.7 1054.9,1534.7 1054.9,1556.7 1072.2,1556.7 1086.1,1538.5 1113.9,1538.0 1153.2,1538.0 1167.8,1556.7 1194.9,1517.0 1196.2,1496.7 1210.1,1477.2 1222.8,1476.5 1250.6,1435.2 1264.6,1434.7 1278.5,1415.7 1292.4,1414.9 1306.3,1396.7 1335.4,1396.7 1349.4,1398.0 1363.3,1399.7 1375.9,1398.7 1389.9,1395.4 1403.8,1381.0 1416.5,1379.0 1431.6,1375.2 1444.3,1375.2 1460.0,1380.3 1467.8,1392.9 1471.6,1413.2 1486.8,1418.2 1500.8,1437.2 1514.7,1456.2 1528.6,1458.7 1542.5,1476.5 1556.5,1479.0 1570.4,1500.5 1580.5,1518.2 1583.0,1537.2 1591.9,1539.2 1599.5,1538.5 1600.8,1518.2 1612.2,1499.2 1626.1,1496.7 1640.0,1482.3 1653.9,1498.0 1667.8,1498.5 1680.5,1499.2 1695.7,1517.7 1708.4,1518.2 1721.0,1517.0 1736.2,1502.5 1750.1,1518.2 1764.1,1522.0 1778.0,1519.5 1791.9,1535.9 1805.8,1539.7 1819.7,1522.8 1833.7,1521.3 1861.5,1520.3 1875.4,1517.7 1889.4,1499.2 1903.3,1515.7 1909.3,1515.7 1909.3,1560.3 794.2,1560.3" fill="#fff"/>
<polyline points="794.2,1556.7 806.8,1539.7 834.7,1539.2 876.5,1538.0 911.9,1537.2 920.0,1534.7 932.9,1520.3 958.2,1518.7 986.1,1517.7 1013.9,1517.0 1029.1,1537.2 1042.3,1518.7 1054.9,1534.7 1054.9,1556.7 1072.2,1556.7 1086.1,1538.5 1113.9,1538.0 1153.2,1538.0 1167.8,1556.7 1194.9,1517.0 1196.2,1496.7 1210.1,1477.2 1222.8,1476.5 1250.6,1435.2 1264.6,1434.7 1278.5,1415.7 1292.4,1414.9 1306.3,1396.7 1335.4,1396.7 1349.4,1398.0 1363.3,1399.7 1375.9,1398.7 1389.9,1395.4 1403.8,1381.0 1416.5,1379.0 1431.6,1375.2 1444.3,1375.2 1460.0,1380.3 1467.8,1392.9 1471.6,1413.2 1486.8,1418.2 1500.8,1437.2 1514.7,1456.2 1528.6,1458.7 1542.5,1476.5 1556.5,1479.0 1570.4,1500.5 1580.5,1518.2 1583.0,1537.2 1591.9,1539.2 1599.5,1538.5 1600.8,1518.2 1612.2,1499.2 1626.1,1496.7 1640.0,1482.3 1653.9,1498.0 1667.8,1498.5 1680.5,1499.2 1695.7,1517.7 1708.4,1518.2 1721.0,1517.0 1736.2,1502.5 1750.1,1518.2 1764.1,1522.0 1778.0,1519.5 1791.9,1535.9 1805.8,1539.7 1819.7,1522.8 1833.7,1521.3 1861.5,1520.3 1875.4,1517.7 1889.4,1499.2 1903.3,1515.7 1909.3,1515.7" fill="none" stroke="#000" stroke-width="1.3" stroke-linejoin="round" clip-path="url(#dc)"/>
<g stroke="#262626" stroke-width="1.5" fill="none">
<rect x="279.5" y="131.7" width="1666.1" height="1425.6"/>
<path d="M418.3 1557.3v-16.6M418.3 131.7v16.6"/>
<path d="M696.0 1557.3v-16.6M696.0 131.7v16.6"/>
<path d="M973.7 1557.3v-16.6M973.7 131.7v16.6"/>
<path d="M1251.4 1557.3v-16.6M1251.4 131.7v16.6"/>
<path d="M1529.1 1557.3v-16.6M1529.1 131.7v16.6"/>
<path d="M1806.8 1557.3v-16.6M1806.8 131.7v16.6"/>
<path d="M279.5 1353.6h16.6M1945.6 1353.6h-16.6"/>
<path d="M279.5 1150.0h16.6M1945.6 1150.0h-16.6"/>
<path d="M279.5 946.3h16.6M1945.6 946.3h-16.6"/>
<path d="M279.5 742.7h16.6M1945.6 742.7h-16.6"/>
<path d="M279.5 539.0h16.6M1945.6 539.0h-16.6"/>
<path d="M279.5 335.4h16.6M1945.6 335.4h-16.6"/>
</g>
<rect x="1979.2" y="1462.26" width="66.4" height="95.54" fill="#0000bf"/>
<rect x="1979.2" y="1367.22" width="66.4" height="95.54" fill="#0000ff"/>
<rect x="1979.2" y="1272.18" width="66.4" height="95.54" fill="#0040ff"/>
<rect x="1979.2" y="1177.14" width="66.4" height="95.54" fill="#0080ff"/>
<rect x="1979.2" y="1082.10" width="66.4" height="95.54" fill="#00bfff"/>
<rect x="1979.2" y="987.06" width="66.4" height="95.54" fill="#00ffff"/>
<rect x="1979.2" y="892.02" width="66.4" height="95.54" fill="#40ffbf"/>
<rect x="1979.2" y="796.98" width="66.4" height="95.54" fill="#80ff80"/>
<rect x="1979.2" y="701.94" width="66.4" height="95.54" fill="#bfff40"/>
<rect x="1979.2" y="606.90" width="66.4" height="95.54" fill="#ffff00"/>
<rect x="1979.2" y="511.86" width="66.4" height="95.54" fill="#ffbf00"/>
<rect x="1979.2" y="416.82" width="66.4" height="95.54" fill="#ff8000"/>
<rect x="1979.2" y="321.78" width="66.4" height="95.54" fill="#ff4000"/>
<rect x="1979.2" y="226.74" width="66.4" height="95.54" fill="#ff0000"/>
<rect x="1979.2" y="131.70" width="66.4" height="95.54" fill="#bf0000"/>
<g stroke="#262626" stroke-width="1.5" fill="none">
<rect x="1979.2" y="131.7" width="66.4" height="1425.6"/>
<path d="M2045.6 1462.3h-14.5"/>
<path d="M2045.6 1367.2h-14.5"/>
<path d="M2045.6 1272.2h-14.5"/>
<path d="M2045.6 1177.1h-14.5"/>
<path d="M2045.6 1082.1h-14.5"/>
<path d="M2045.6 987.1h-14.5"/>
<path d="M2045.6 892.0h-14.5"/>
<path d="M2045.6 797.0h-14.5"/>
<path d="M2045.6 701.9h-14.5"/>
<path d="M2045.6 606.9h-14.5"/>
<path d="M2045.6 511.9h-14.5"/>
<path d="M2045.6 416.8h-14.5"/>
<path d="M2045.6 321.8h-14.5"/>
<path d="M2045.6 226.7h-14.5"/>
</g>
<g font-family="Liberation Sans, sans-serif" fill="#262626">
<text transform="translate(398.34,1643.30) scale(1.0200,1)" font-size="67">0</text>
<text transform="translate(676.03,1643.30) scale(1.0200,1)" font-size="67">2</text>
<text transform="translate(953.71,1643.30) scale(1.0200,1)" font-size="67">4</text>
<text transform="translate(1231.39,1643.30) scale(1.0200,1)" font-size="67">6</text>
<text transform="translate(1509.08,1643.30) scale(1.0200,1)" font-size="67">8</text>
<path transform="translate(1793.47,1643.30) scale(67.000,67)" d="M0,0V-0.716H-0.076Q-0.125,-0.588 -0.281,-0.579V-0.511H-0.092V0Z"/><text transform="translate(1805.39,1643.30) scale(1.0200,1)" font-size="67">0</text>
<text transform="translate(180.92,1581.90) scale(1.0200,1)" font-size="67">8</text><text transform="translate(218.18,1581.90) scale(1.0200,1)" font-size="67">0</text>
<text transform="translate(180.92,1378.24) scale(1.0200,1)" font-size="67">8</text><text transform="translate(218.18,1378.24) scale(1.0200,1)" font-size="67">5</text>
<text transform="translate(180.92,1174.59) scale(1.0200,1)" font-size="67">9</text><text transform="translate(218.18,1174.59) scale(1.0200,1)" font-size="67">0</text>
<text transform="translate(180.92,970.93) scale(1.0200,1)" font-size="67">9</text><text transform="translate(218.18,970.93) scale(1.0200,1)" font-size="67">5</text>
<path transform="translate(169.01,767.27) scale(67.000,67)" d="M0,0V-0.716H-0.076Q-0.125,-0.588 -0.281,-0.579V-0.511H-0.092V0Z"/><text transform="translate(180.92,767.27) scale(1.0200,1)" font-size="67">0</text><text transform="translate(218.18,767.27) scale(1.0200,1)" font-size="67">0</text>
<path transform="translate(169.01,563.61) scale(67.000,67)" d="M0,0V-0.716H-0.076Q-0.125,-0.588 -0.281,-0.579V-0.511H-0.092V0Z"/><text transform="translate(180.92,563.61) scale(1.0200,1)" font-size="67">0</text><text transform="translate(218.18,563.61) scale(1.0200,1)" font-size="67">5</text>
<path transform="translate(169.01,359.96) scale(67.000,67)" d="M0,0V-0.716H-0.076Q-0.125,-0.588 -0.281,-0.579V-0.511H-0.092V0Z"/><path transform="translate(206.26,359.96) scale(67.000,67)" d="M0,0V-0.716H-0.076Q-0.125,-0.588 -0.281,-0.579V-0.511H-0.092V0Z"/><text transform="translate(218.18,359.96) scale(1.0200,1)" font-size="67">0</text>
<path transform="translate(169.01,156.30) scale(67.000,67)" d="M0,0V-0.716H-0.076Q-0.125,-0.588 -0.281,-0.579V-0.511H-0.092V0Z"/><path transform="translate(206.26,156.30) scale(67.000,67)" d="M0,0V-0.716H-0.076Q-0.125,-0.588 -0.281,-0.579V-0.511H-0.092V0Z"/><text transform="translate(218.18,156.30) scale(1.0200,1)" font-size="67">5</text>
<text transform="translate(2065.40,1486.06) scale(1.0160,1)" font-size="60.3">0</text><text transform="translate(2099.46,1486.06) scale(1.0160,1)" font-size="60.3">.</text><text transform="translate(2116.49,1486.06) scale(1.0160,1)" font-size="60.3">0</text><path transform="translate(2173.39,1486.06) scale(61.265,60.3)" d="M0,0V-0.716H-0.076Q-0.125,-0.588 -0.281,-0.579V-0.511H-0.092V0Z"/>
<text transform="translate(2065.40,1391.02) scale(1.0160,1)" font-size="60.3">0</text><text transform="translate(2099.46,1391.02) scale(1.0160,1)" font-size="60.3">.</text><path transform="translate(2139.32,1391.02) scale(61.265,60.3)" d="M0,0V-0.716H-0.076Q-0.125,-0.588 -0.281,-0.579V-0.511H-0.092V0Z"/>
<text transform="translate(2065.40,1295.98) scale(1.0160,1)" font-size="60.3">0</text><text transform="translate(2099.46,1295.98) scale(1.0160,1)" font-size="60.3">.</text><text transform="translate(2116.49,1295.98) scale(1.0160,1)" font-size="60.3">2</text>
<text transform="translate(2065.40,1200.94) scale(1.0160,1)" font-size="60.3">0</text><text transform="translate(2099.46,1200.94) scale(1.0160,1)" font-size="60.3">.</text><text transform="translate(2116.49,1200.94) scale(1.0160,1)" font-size="60.3">4</text>
<text transform="translate(2065.40,1105.90) scale(1.0160,1)" font-size="60.3">0</text><text transform="translate(2099.46,1105.90) scale(1.0160,1)" font-size="60.3">.</text><text transform="translate(2116.49,1105.90) scale(1.0160,1)" font-size="60.3">6</text>
<text transform="translate(2065.40,1010.86) scale(1.0160,1)" font-size="60.3">0</text><text transform="translate(2099.46,1010.86) scale(1.0160,1)" font-size="60.3">.</text><text transform="translate(2116.49,1010.86) scale(1.0160,1)" font-size="60.3">8</text>
<path transform="translate(2088.23,915.82) scale(61.265,60.3)" d="M0,0V-0.716H-0.076Q-0.125,-0.588 -0.281,-0.579V-0.511H-0.092V0Z"/>
<path transform="translate(2088.23,820.78) scale(61.265,60.3)" d="M0,0V-0.716H-0.076Q-0.125,-0.588 -0.281,-0.579V-0.511H-0.092V0Z"/><text transform="translate(2099.46,820.78) scale(1.0160,1)" font-size="60.3">.</text><text transform="translate(2116.49,820.78) scale(1.0160,1)" font-size="60.3">2</text>
<path transform="translate(2088.23,725.74) scale(61.265,60.3)" d="M0,0V-0.716H-0.076Q-0.125,-0.588 -0.281,-0.579V-0.511H-0.092V0Z"/><text transform="translate(2099.46,725.74) scale(1.0160,1)" font-size="60.3">.</text><text transform="translate(2116.49,725.74) scale(1.0160,1)" font-size="60.3">4</text>
<path transform="translate(2088.23,630.70) scale(61.265,60.3)" d="M0,0V-0.716H-0.076Q-0.125,-0.588 -0.281,-0.579V-0.511H-0.092V0Z"/><text transform="translate(2099.46,630.70) scale(1.0160,1)" font-size="60.3">.</text><text transform="translate(2116.49,630.70) scale(1.0160,1)" font-size="60.3">6</text>
<text transform="translate(2065.40,535.66) scale(1.0160,1)" font-size="60.3">2</text>
<text transform="translate(2065.40,440.62) scale(1.0160,1)" font-size="60.3">3</text>
<text transform="translate(2065.40,345.58) scale(1.0160,1)" font-size="60.3">4</text>
<text transform="translate(2065.40,250.54) scale(1.0160,1)" font-size="60.3">6</text>
<text transform="translate(1112.50,1732.00) scale(0.978,1.03)" font-size="73.5" text-anchor="middle">UT (Hour)</text>
<text transform="translate(117.20,845.20) rotate(-90) scale(0.994,1.03)" font-size="73.5" text-anchor="middle">Altitude (km)</text>
</g>
<g font-family="Liberation Sans, sans-serif" fill="#000" font-weight="bold" font-size="74.3">
<text transform="translate(533.20,110.3) scale(1.0000,1)" font-size="74.3">Na</text>
<text transform="translate(648.80,110.3) scale(1.0000,1)" font-size="74.3">Mixing</text>
<text transform="translate(902.00,110.3) scale(1.0000,1)" font-size="74.3">Ratio</text>
<text transform="translate(1107.60,110.3) scale(1.0000,1)" font-size="74.3">(10</text>
<text transform="translate(1211.65,75.6) scale(1.0690,1)" font-size="59">-10</text>
<text transform="translate(1319.40,110.3) scale(1.0000,1)" font-size="74.3">)</text>
<text transform="translate(1361.80,110.3) scale(1.0000,1)" font-size="74.3">20190802</text>
</g>
</svg></body></html>
